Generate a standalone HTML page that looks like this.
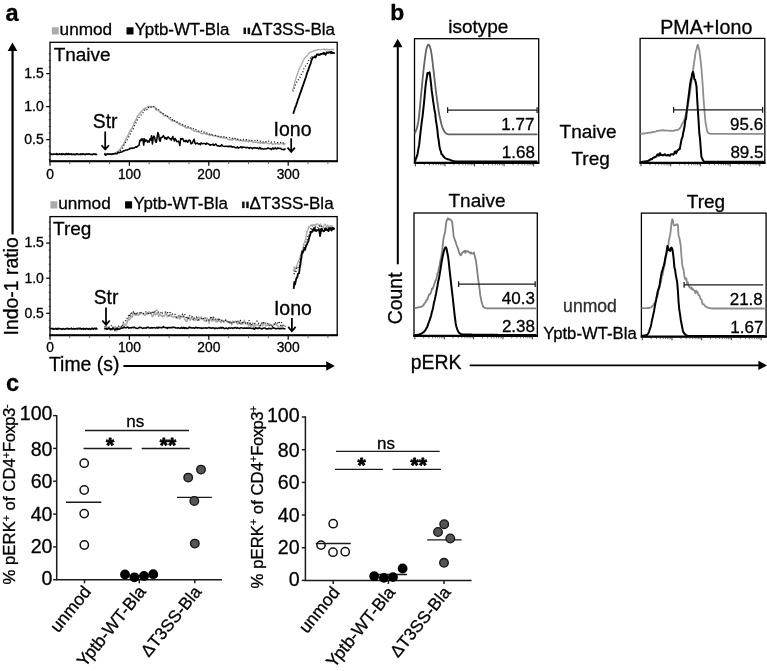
<!DOCTYPE html>
<html><head><meta charset="utf-8"><title>figure</title>
<style>
html,body{margin:0;padding:0;background:#fff;}
body{width:767px;height:671px;overflow:hidden;font-family:"Liberation Sans",sans-serif;}
svg{display:block;filter:blur(0.35px);}
svg text{font-family:"Liberation Sans",sans-serif;fill:#000;stroke:#000;stroke-width:0.3px;}
</style></head><body>
<svg width="767" height="671" viewBox="0 0 767 671">
<rect x="0" y="0" width="767" height="671" fill="#fff"/>
<rect x="51.8" y="27.3" width="6.9" height="7.2" fill="#ababab"/>
<text x="59.6" y="34.5" font-size="17.2">unmod</text>
<rect x="126.5" y="27.3" width="7.0" height="7.2" fill="#000"/>
<text x="134.8" y="34.5" font-size="16.9">Yptb-WT-Bla</text>
<rect x="243.5" y="27.6" width="2.5" height="6.5" fill="#111"/>
<rect x="247.6" y="27.6" width="2.5" height="6.5" fill="#111"/>
<text x="250.9" y="34.5" font-size="17">ΔT3SS-Bla</text>
<rect x="50" y="42.3" width="287.2" height="119.00000000000001" fill="#fff" stroke="#000" stroke-width="1.3"/>
<line x1="49.3" y1="161.3" x2="337.9" y2="161.3" stroke="#000" stroke-width="2.1"/>
<line x1="48.7" y1="159.4" x2="51" y2="159.4" stroke="#222" stroke-width="0.8"/>
<line x1="48.7" y1="152.8" x2="51" y2="152.8" stroke="#222" stroke-width="0.8"/>
<line x1="48.7" y1="146.2" x2="51" y2="146.2" stroke="#222" stroke-width="0.8"/>
<line x1="46.2" y1="139.6" x2="50" y2="139.6" stroke="#000" stroke-width="1.25"/>
<line x1="48.7" y1="133.0" x2="51" y2="133.0" stroke="#222" stroke-width="0.8"/>
<line x1="48.7" y1="126.4" x2="51" y2="126.4" stroke="#222" stroke-width="0.8"/>
<line x1="48.7" y1="119.8" x2="51" y2="119.8" stroke="#222" stroke-width="0.8"/>
<line x1="48.7" y1="113.2" x2="51" y2="113.2" stroke="#222" stroke-width="0.8"/>
<line x1="46.2" y1="106.6" x2="50" y2="106.6" stroke="#000" stroke-width="1.25"/>
<line x1="48.7" y1="100.0" x2="51" y2="100.0" stroke="#222" stroke-width="0.8"/>
<line x1="48.7" y1="93.4" x2="51" y2="93.4" stroke="#222" stroke-width="0.8"/>
<line x1="48.7" y1="86.8" x2="51" y2="86.8" stroke="#222" stroke-width="0.8"/>
<line x1="48.7" y1="80.2" x2="51" y2="80.2" stroke="#222" stroke-width="0.8"/>
<line x1="46.2" y1="73.6" x2="50" y2="73.6" stroke="#000" stroke-width="1.25"/>
<line x1="48.7" y1="67.0" x2="51" y2="67.0" stroke="#222" stroke-width="0.8"/>
<line x1="48.7" y1="60.4" x2="51" y2="60.4" stroke="#222" stroke-width="0.8"/>
<line x1="48.7" y1="53.8" x2="51" y2="53.8" stroke="#222" stroke-width="0.8"/>
<line x1="50.0" y1="161.3" x2="50.0" y2="165.70000000000002" stroke="#000" stroke-width="1.2"/>
<line x1="69.8" y1="161.3" x2="69.8" y2="164.10000000000002" stroke="#444" stroke-width="0.8"/>
<line x1="89.7" y1="161.3" x2="89.7" y2="164.10000000000002" stroke="#444" stroke-width="0.8"/>
<line x1="109.6" y1="161.3" x2="109.6" y2="164.10000000000002" stroke="#444" stroke-width="0.8"/>
<line x1="129.4" y1="161.3" x2="129.4" y2="165.70000000000002" stroke="#000" stroke-width="1.2"/>
<line x1="149.2" y1="161.3" x2="149.2" y2="164.10000000000002" stroke="#444" stroke-width="0.8"/>
<line x1="169.1" y1="161.3" x2="169.1" y2="164.10000000000002" stroke="#444" stroke-width="0.8"/>
<line x1="189.0" y1="161.3" x2="189.0" y2="164.10000000000002" stroke="#444" stroke-width="0.8"/>
<line x1="208.8" y1="161.3" x2="208.8" y2="165.70000000000002" stroke="#000" stroke-width="1.2"/>
<line x1="228.7" y1="161.3" x2="228.7" y2="164.10000000000002" stroke="#444" stroke-width="0.8"/>
<line x1="248.5" y1="161.3" x2="248.5" y2="164.10000000000002" stroke="#444" stroke-width="0.8"/>
<line x1="268.4" y1="161.3" x2="268.4" y2="164.10000000000002" stroke="#444" stroke-width="0.8"/>
<line x1="288.2" y1="161.3" x2="288.2" y2="165.70000000000002" stroke="#000" stroke-width="1.2"/>
<line x1="308.1" y1="161.3" x2="308.1" y2="164.10000000000002" stroke="#444" stroke-width="0.8"/>
<line x1="327.9" y1="161.3" x2="327.9" y2="164.10000000000002" stroke="#444" stroke-width="0.8"/>
<path d="M50.0,154.6 L50.8,154.1 L51.6,154.3 L52.4,154.3 L53.1,154.1 L53.9,154.3 L54.7,153.7 L55.5,153.9 L56.3,153.8 L57.1,154.3 L57.9,154.3 L58.7,153.8 L59.5,154.5 L60.2,153.8 L61.0,154.3 L61.8,154.2 L62.6,154.4 L63.4,154.1 L64.2,154.3 L65.0,154.3 L65.8,154.2 L66.5,154.3 L67.3,154.1 L68.1,154.0 L68.9,153.8 L69.7,154.4 L70.5,154.5 L71.3,154.5 L72.0,154.2 L72.8,153.9 L73.6,154.2 L74.4,154.2 L75.2,154.0 L76.0,154.2 L76.8,154.4 L77.6,154.4 L78.3,154.3 L79.1,154.3 L79.9,154.1 L80.7,154.2 L81.5,154.7 L82.3,153.7 L83.1,154.7 L83.9,154.6 L84.7,154.2 L85.4,154.2 L86.2,153.9 L87.0,154.4 L87.8,154.2 L88.6,154.5 L89.4,154.0 L90.2,154.0 L90.9,154.1 L91.7,154.4 L92.5,154.4 L93.3,154.6 L94.1,154.2 L94.9,154.2 L95.7,154.3 L96.5,154.2 L97.2,154.8" fill="none" stroke="#a9a9a9" stroke-width="1.5" stroke-linejoin="round"/>
<path d="M104.3,155.2 L105.1,155.1 L105.9,153.5 L106.7,154.5 L107.5,153.5 L108.3,154.4 L109.1,153.7 L109.8,153.9 L110.6,154.3 L111.4,154.3 L112.2,154.7 L113.0,153.8 L113.8,154.0 L114.6,153.2 L115.4,152.8 L116.1,153.3 L116.9,152.2 L117.7,151.5 L118.5,150.8 L119.3,150.1 L120.1,149.0 L120.9,148.3 L121.7,147.1 L122.5,145.4 L123.2,145.0 L124.0,143.6 L124.8,141.7 L125.6,140.5 L126.4,137.9 L127.2,136.9 L128.0,135.3 L128.8,133.8 L129.5,132.0 L130.3,130.1 L131.1,129.3 L131.9,128.6 L132.7,126.4 L133.5,125.3 L134.3,122.6 L135.1,121.5 L135.8,120.1 L136.6,118.6 L137.4,116.3 L138.2,115.3 L139.0,114.2 L139.8,113.7 L140.6,112.3 L141.3,111.6 L142.1,110.6 L142.9,110.0 L143.7,108.8 L144.5,108.3 L145.3,108.5 L146.1,107.7 L146.9,107.5 L147.6,107.6 L148.4,106.4 L149.2,106.9 L150.0,106.5 L150.8,106.3 L151.6,106.6 L152.4,106.7 L153.2,106.4 L153.9,106.9 L154.7,107.3 L155.5,108.3 L156.3,109.9 L157.1,109.8 L157.9,109.4 L158.7,110.6 L159.5,111.6 L160.2,112.3 L161.0,112.6 L161.8,113.5 L162.6,114.0 L163.4,114.4 L164.2,115.8 L165.0,115.8 L165.8,115.7 L166.6,116.0 L167.3,116.3 L168.1,116.9 L168.9,118.6 L169.7,118.8 L170.5,119.3 L171.3,120.0 L172.1,121.1 L172.8,121.0 L173.6,120.8 L174.4,120.8 L175.2,121.4 L176.0,122.0 L176.8,121.8 L177.6,122.9 L178.4,123.4 L179.2,124.3 L179.9,124.7 L180.7,125.0 L181.5,125.3 L182.3,125.5 L183.1,126.0 L183.9,126.0 L184.7,126.6 L185.4,127.7 L186.2,127.6 L187.0,128.1 L187.8,127.5 L188.6,128.0 L189.4,127.9 L190.2,128.0 L191.0,128.8 L191.8,129.6 L192.5,129.9 L193.3,130.2 L194.1,131.2 L194.9,130.5 L195.7,130.8 L196.5,131.3 L197.3,131.5 L198.0,132.0 L198.8,132.0 L199.6,132.0 L200.4,132.5 L201.2,133.5 L202.0,133.8 L202.8,133.4 L203.6,133.4 L204.3,133.4 L205.1,133.2 L205.9,134.2 L206.7,134.4 L207.5,134.0 L208.3,134.6 L209.1,135.2 L209.9,134.8 L210.7,135.3 L211.4,134.4 L212.2,135.3 L213.0,135.8 L213.8,135.7 L214.6,135.9 L215.4,136.1 L216.2,135.8 L216.9,136.5 L217.7,136.4 L218.5,136.7 L219.3,136.8 L220.1,137.4 L220.9,137.4 L221.7,137.3 L222.5,137.8 L223.2,138.2 L224.0,137.5 L224.8,138.1 L225.6,138.1 L226.4,138.3 L227.2,138.6 L228.0,139.4 L228.8,139.5 L229.5,140.0 L230.3,139.3 L231.1,139.9 L231.9,139.7 L232.7,140.0 L233.5,139.2 L234.3,138.5 L235.1,139.3 L235.8,139.5 L236.6,140.5 L237.4,139.5 L238.2,139.8 L239.0,140.3 L239.8,140.4 L240.6,140.6 L241.4,140.7 L242.2,140.5 L242.9,141.2 L243.7,140.6 L244.5,140.7 L245.3,141.3 L246.1,140.1 L246.9,141.1 L247.7,141.4 L248.4,142.0 L249.2,141.5 L250.0,141.1 L250.8,141.1 L251.6,141.3 L252.4,142.4 L253.2,142.2 L254.0,142.1 L254.8,142.1 L255.5,142.3 L256.3,142.1 L257.1,142.3 L257.9,143.0 L258.7,142.5 L259.5,142.4 L260.3,143.2 L261.0,142.7 L261.8,142.9 L262.6,142.9 L263.4,143.4 L264.2,142.7 L265.0,143.2 L265.8,142.7 L266.6,142.8 L267.4,143.2 L268.1,143.5 L268.9,143.7 L269.7,143.7 L270.5,143.1 L271.3,143.1 L272.1,144.0 L272.9,144.5 L273.6,144.3 L274.4,143.6 L275.2,143.6 L276.0,144.0 L276.8,143.4 L277.6,143.8 L278.4,143.9 L279.2,144.2 L279.9,143.8 L280.7,143.4 L281.5,143.4 L282.3,143.2 L283.1,144.2 L283.9,144.6 L284.7,143.8 L285.5,144.2" fill="none" stroke="#a9a9a9" stroke-width="1.5" stroke-linejoin="round"/>
<path d="M50.0,153.8 L50.8,153.9 L51.6,153.7 L52.4,153.6 L53.1,153.8 L53.9,154.0 L54.7,153.7 L55.5,154.0 L56.3,153.4 L57.1,153.9 L57.9,153.7 L58.7,153.6 L59.5,153.7 L60.2,153.7 L61.0,153.5 L61.8,154.0 L62.6,154.3 L63.4,153.7 L64.2,153.4 L65.0,153.9 L65.8,153.9 L66.5,153.9 L67.3,153.6 L68.1,153.3 L68.9,153.6 L69.7,153.7 L70.5,153.5 L71.3,153.8 L72.0,154.1 L72.8,153.4 L73.6,154.1 L74.4,154.1 L75.2,153.9 L76.0,153.5 L76.8,153.6 L77.6,153.7 L78.3,153.7 L79.1,153.5 L79.9,153.5 L80.7,154.0 L81.5,153.5 L82.3,153.9 L83.1,153.7 L83.9,153.8 L84.7,153.7 L85.4,153.5 L86.2,154.1 L87.0,154.0 L87.8,153.8 L88.6,153.5 L89.4,154.0 L90.2,153.7 L90.9,153.6 L91.7,153.9 L92.5,154.0 L93.3,153.6 L94.1,154.0 L94.9,154.1 L95.7,153.6 L96.5,154.3 L97.2,154.2" fill="none" stroke="#1a1a1a" stroke-width="1.25" stroke-dasharray="1.1 2.1" stroke-linejoin="round"/>
<path d="M104.3,153.7 L105.1,153.4 L105.9,153.3 L106.7,154.1 L107.5,153.7 L108.3,154.1 L109.1,153.1 L109.8,153.7 L110.6,154.1 L111.4,153.9 L112.2,153.3 L113.0,154.2 L113.8,154.4 L114.6,153.8 L115.4,153.4 L116.1,153.2 L116.9,152.9 L117.7,152.0 L118.5,152.1 L119.3,151.7 L120.1,150.9 L120.9,149.9 L121.7,149.5 L122.5,148.5 L123.2,147.1 L124.0,145.1 L124.8,144.1 L125.6,142.5 L126.4,140.9 L127.2,139.8 L128.0,138.5 L128.8,136.9 L129.5,135.6 L130.3,134.1 L131.1,132.0 L131.9,130.7 L132.7,130.2 L133.5,128.4 L134.3,126.1 L135.1,124.8 L135.8,123.0 L136.6,122.0 L137.4,119.8 L138.2,118.5 L139.0,117.5 L139.8,116.2 L140.6,115.6 L141.3,114.6 L142.1,113.0 L142.9,112.7 L143.7,110.7 L144.5,110.4 L145.3,108.9 L146.1,109.4 L146.9,109.6 L147.6,107.4 L148.4,107.6 L149.2,106.6 L150.0,107.3 L150.8,107.4 L151.6,107.2 L152.4,107.1 L153.2,106.3 L153.9,106.7 L154.7,107.1 L155.5,107.5 L156.3,109.1 L157.1,109.4 L157.9,109.3 L158.7,110.0 L159.5,110.2 L160.2,111.4 L161.0,112.2 L161.8,112.0 L162.6,112.4 L163.4,113.9 L164.2,113.8 L165.0,114.6 L165.8,115.7 L166.6,117.1 L167.3,116.4 L168.1,116.7 L168.9,117.1 L169.7,117.7 L170.5,117.6 L171.3,118.5 L172.1,119.6 L172.8,119.8 L173.6,119.2 L174.4,120.8 L175.2,120.6 L176.0,121.3 L176.8,122.1 L177.6,122.6 L178.4,122.5 L179.2,123.0 L179.9,123.4 L180.7,123.7 L181.5,124.6 L182.3,124.4 L183.1,124.9 L183.9,125.1 L184.7,125.2 L185.4,126.0 L186.2,126.6 L187.0,126.6 L187.8,126.6 L188.6,127.4 L189.4,128.0 L190.2,127.8 L191.0,127.9 L191.8,127.3 L192.5,128.1 L193.3,128.5 L194.1,128.9 L194.9,129.9 L195.7,129.5 L196.5,129.7 L197.3,130.4 L198.0,130.6 L198.8,131.2 L199.6,131.6 L200.4,131.0 L201.2,131.1 L202.0,131.1 L202.8,132.0 L203.6,131.6 L204.3,132.5 L205.1,132.9 L205.9,133.1 L206.7,133.0 L207.5,133.8 L208.3,133.9 L209.1,133.9 L209.9,134.2 L210.7,134.4 L211.4,135.3 L212.2,134.8 L213.0,134.8 L213.8,134.9 L214.6,134.9 L215.4,135.4 L216.2,135.8 L216.9,136.3 L217.7,136.1 L218.5,136.4 L219.3,136.7 L220.1,137.2 L220.9,136.8 L221.7,136.1 L222.5,136.3 L223.2,136.7 L224.0,136.7 L224.8,137.2 L225.6,136.6 L226.4,137.4 L227.2,137.2 L228.0,137.4 L228.8,137.4 L229.5,137.7 L230.3,137.3 L231.1,137.3 L231.9,138.0 L232.7,138.7 L233.5,138.8 L234.3,138.3 L235.1,138.5 L235.8,138.1 L236.6,139.0 L237.4,139.1 L238.2,139.4 L239.0,139.1 L239.8,139.7 L240.6,139.9 L241.4,139.5 L242.2,138.8 L242.9,139.2 L243.7,139.6 L244.5,139.6 L245.3,139.9 L246.1,139.6 L246.9,139.9 L247.7,140.7 L248.4,140.3 L249.2,140.2 L250.0,139.7 L250.8,140.5 L251.6,140.5 L252.4,140.3 L253.2,140.2 L254.0,140.3 L254.8,140.4 L255.5,141.1 L256.3,140.8 L257.1,140.1 L257.9,141.1 L258.7,141.0 L259.5,141.3 L260.3,141.2 L261.0,141.7 L261.8,142.0 L262.6,142.2 L263.4,141.8 L264.2,142.2 L265.0,142.3 L265.8,141.7 L266.6,141.7 L267.4,141.5 L268.1,141.9 L268.9,141.0 L269.7,141.2 L270.5,141.7 L271.3,142.2 L272.1,142.1 L272.9,142.1 L273.6,142.4 L274.4,142.0 L275.2,142.4 L276.0,142.3 L276.8,142.7 L277.6,142.5 L278.4,142.7 L279.2,142.3 L279.9,142.1 L280.7,142.5 L281.5,143.2 L282.3,143.4 L283.1,143.0 L283.9,142.9 L284.7,142.9 L285.5,143.0" fill="none" stroke="#1a1a1a" stroke-width="1.25" stroke-dasharray="1.1 2.1" stroke-linejoin="round"/>
<path d="M50.0,154.3 L50.8,153.8 L51.6,154.5 L52.4,154.2 L53.1,154.4 L53.9,154.3 L54.7,154.3 L55.5,154.3 L56.3,154.5 L57.1,153.8 L57.9,154.6 L58.7,154.2 L59.5,154.2 L60.2,154.2 L61.0,154.7 L61.8,153.6 L62.6,154.4 L63.4,154.0 L64.2,154.4 L65.0,154.2 L65.8,154.4 L66.5,153.6 L67.3,154.5 L68.1,153.7 L68.9,154.5 L69.7,153.9 L70.5,154.2 L71.3,154.0 L72.0,154.6 L72.8,154.5 L73.6,154.2 L74.4,154.6 L75.2,154.8 L76.0,154.1 L76.8,154.0 L77.6,153.9 L78.3,154.4 L79.1,154.5 L79.9,154.5 L80.7,154.6 L81.5,154.0 L82.3,153.8 L83.1,154.3 L83.9,154.3 L84.7,154.2 L85.4,154.8 L86.2,153.9 L87.0,153.9 L87.8,154.3 L88.6,154.1 L89.4,154.0 L90.2,154.4 L90.9,154.4 L91.7,154.6 L92.5,154.7 L93.3,154.1 L94.1,153.9 L94.9,154.4 L95.7,154.2 L96.5,154.4 L97.2,154.2" fill="none" stroke="#000" stroke-width="1.55" stroke-linejoin="round"/>
<path d="M104.3,153.8 L105.1,154.4 L105.9,155.1 L106.7,154.6 L107.5,153.9 L108.3,153.9 L109.1,154.2 L109.8,154.3 L110.6,154.0 L111.4,154.4 L112.2,154.0 L113.0,154.1 L113.8,153.7 L114.6,153.7 L115.4,153.6 L116.1,153.7 L116.9,153.7 L117.7,152.6 L118.5,152.6 L119.3,152.6 L120.1,152.3 L120.9,152.0 L121.7,152.1 L122.5,151.5 L123.2,151.1 L124.0,150.8 L124.8,150.8 L125.6,150.0 L126.4,150.1 L127.2,150.0 L128.0,149.6 L128.8,149.5 L129.5,148.9 L130.3,148.2 L131.1,148.4 L131.9,148.1 L132.7,148.4 L133.5,148.0 L134.3,147.9 L135.1,147.4 L135.8,146.8 L136.6,147.3 L137.4,146.3 L138.2,145.9 L139.0,145.4 L139.8,140.6 L140.6,140.8 L141.3,138.9 L142.1,140.4 L142.9,138.8 L143.7,145.1 L144.5,138.9 L145.3,141.4 L146.1,140.0 L146.9,140.4 L147.6,142.1 L148.4,141.1 L149.2,141.9 L150.0,138.9 L150.8,140.0 L151.6,135.7 L152.4,144.0 L153.2,137.4 L153.9,136.1 L154.7,137.8 L155.5,141.9 L156.3,142.3 L157.1,137.5 L157.9,132.6 L158.7,134.8 L159.5,140.7 L160.2,141.2 L161.0,137.5 L161.8,137.4 L162.6,136.8 L163.4,135.6 L164.2,137.2 L165.0,138.8 L165.8,137.6 L166.6,139.3 L167.3,137.8 L168.1,136.9 L168.9,137.7 L169.7,138.8 L170.5,138.7 L171.3,140.1 L172.1,138.2 L172.8,136.5 L173.6,138.9 L174.4,140.9 L175.2,138.5 L176.0,140.0 L176.8,141.7 L177.6,141.4 L178.4,141.2 L179.2,142.9 L179.9,145.5 L180.7,138.5 L181.5,139.2 L182.3,138.5 L183.1,139.2 L183.9,141.5 L184.7,140.7 L185.4,141.6 L186.2,140.2 L187.0,141.6 L187.8,142.2 L188.6,140.4 L189.4,140.1 L190.2,140.7 L191.0,143.7 L191.8,143.4 L192.5,142.7 L193.3,140.8 L194.1,139.3 L194.9,143.2 L195.7,143.9 L196.5,143.3 L197.3,143.1 L198.0,143.7 L198.8,144.0 L199.6,143.8 L200.4,144.8 L201.2,142.8 L202.0,143.5 L202.8,143.7 L203.6,143.6 L204.3,143.4 L205.1,143.6 L205.9,144.4 L206.7,143.1 L207.5,143.6 L208.3,143.9 L209.1,144.3 L209.9,145.2 L210.7,144.8 L211.4,144.8 L212.2,144.8 L213.0,144.0 L213.8,145.3 L214.6,145.3 L215.4,144.1 L216.2,144.2 L216.9,145.5 L217.7,145.9 L218.5,145.8 L219.3,146.3 L220.1,145.8 L220.9,146.1 L221.7,144.6 L222.5,145.8 L223.2,146.2 L224.0,146.3 L224.8,146.5 L225.6,146.3 L226.4,146.2 L227.2,146.5 L228.0,146.3 L228.8,146.7 L229.5,146.1 L230.3,146.6 L231.1,146.1 L231.9,146.9 L232.7,146.7 L233.5,146.9 L234.3,147.0 L235.1,147.5 L235.8,147.7 L236.6,147.8 L237.4,146.9 L238.2,148.2 L239.0,147.7 L239.8,147.6 L240.6,146.8 L241.4,147.0 L242.2,147.9 L242.9,146.9 L243.7,147.2 L244.5,147.2 L245.3,147.4 L246.1,147.8 L246.9,147.3 L247.7,147.4 L248.4,147.8 L249.2,148.4 L250.0,147.6 L250.8,147.7 L251.6,148.0 L252.4,148.6 L253.2,147.8 L254.0,148.0 L254.8,147.8 L255.5,148.1 L256.3,148.3 L257.1,147.9 L257.9,148.4 L258.7,149.0 L259.5,147.5 L260.3,147.9 L261.0,149.0 L261.8,148.5 L262.6,148.7 L263.4,149.0 L264.2,148.9 L265.0,148.8 L265.8,148.7 L266.6,148.7 L267.4,148.6 L268.1,147.9 L268.9,148.4 L269.7,148.4 L270.5,148.7 L271.3,149.6 L272.1,148.5 L272.9,147.9 L273.6,149.1 L274.4,148.6 L275.2,147.9 L276.0,148.6 L276.8,149.0 L277.6,148.1 L278.4,148.1 L279.2,148.3 L279.9,148.4 L280.7,148.2 L281.5,149.3 L282.3,149.5 L283.1,149.4 L283.9,149.7 L284.7,149.3 L285.5,148.5" fill="none" stroke="#000" stroke-width="1.55" stroke-linejoin="round"/>
<path d="M292.7,90.5 L293.3,88.2 L293.9,86.6 L294.5,83.6 L295.1,81.1 L295.7,79.2 L296.3,77.1 L296.9,75.5 L297.5,73.4 L298.1,72.1 L298.7,70.1 L299.3,69.1 L299.9,67.5 L300.5,66.4 L301.1,65.6 L301.7,64.3 L302.3,62.6 L302.9,61.6 L303.5,59.9 L304.1,59.2 L304.7,58.0 L305.3,57.5 L305.9,56.5 L306.5,56.1 L307.1,55.7 L307.7,55.1 L308.3,54.0 L308.9,53.2 L309.5,53.1 L310.1,52.3 L310.7,52.0 L311.3,52.1 L311.9,51.3 L312.5,51.5 L313.1,51.3 L313.7,50.8 L314.3,50.4 L314.9,50.4 L315.5,50.7 L316.1,50.2 L316.7,50.3 L317.3,49.8 L317.9,49.7 L318.5,49.7 L319.1,49.6 L319.7,49.7 L320.3,49.8 L320.9,49.9 L321.5,49.5 L322.1,49.3 L322.7,49.4 L323.3,49.3 L323.9,49.1 L324.5,49.6 L325.1,49.4 L325.7,50.0 L326.3,49.4 L326.9,49.2 L327.5,49.6 L328.1,49.5 L328.7,49.8 L329.3,49.6 L329.9,50.0 L330.5,49.4 L331.1,49.6 L331.7,49.4 L332.3,49.4 L332.9,49.1 L333.5,49.7 L334.1,49.1" fill="none" stroke="#a9a9a9" stroke-width="1.3" stroke-linejoin="round"/>
<path d="M292.7,91.4 L293.3,90.3 L293.9,88.8 L294.5,87.9 L295.1,85.5 L295.7,84.3 L296.3,83.0 L296.9,81.9 L297.5,81.9 L298.1,80.3 L298.7,78.6 L299.3,77.6 L299.9,77.5 L300.5,75.3 L301.1,74.5 L301.7,73.9 L302.3,73.0 L302.9,71.9 L303.5,69.7 L304.1,68.2 L304.7,67.0 L305.3,66.6 L305.9,65.4 L306.5,64.9 L307.1,63.8 L307.7,62.9 L308.3,60.8 L308.9,59.8 L309.5,59.3 L310.1,58.9 L310.7,57.9 L311.3,58.4 L311.9,56.5 L312.5,56.8 L313.1,56.0 L313.7,56.4 L314.3,56.3 L314.9,55.6 L315.5,55.7 L316.1,56.0 L316.7,54.8" fill="none" stroke="#1a1a1a" stroke-width="1.25" stroke-dasharray="1.1 2.1" stroke-linejoin="round"/>
<path d="M293.3,113.7 L293.9,111.6 L294.5,109.8 L295.1,107.8 L295.7,106.5 L296.3,104.8 L296.9,102.9 L297.5,101.2 L298.1,99.1 L298.7,98.1 L299.3,96.1 L299.9,94.2 L300.5,92.7 L301.1,90.9 L301.7,89.1 L302.3,87.3 L302.9,85.6 L303.5,84.0 L304.1,82.3 L304.7,80.6 L305.3,78.8 L305.9,77.2 L306.5,75.1 L307.1,73.1 L307.7,71.3 L308.3,70.2 L308.9,67.8 L309.5,66.3 L310.1,64.8 L310.7,63.3 L311.3,60.8 L311.9,59.3 L312.5,58.0 L313.1,57.6 L313.7,57.3 L314.3,57.2 L314.9,56.6 L315.5,57.4 L316.1,56.5 L316.7,54.7 L317.3,54.4 L317.9,54.7 L318.5,54.5 L319.1,55.0 L319.7,54.6 L320.3,54.5 L320.9,54.0 L321.5,54.0 L322.1,53.9 L322.7,53.5 L323.3,53.8 L323.9,52.7 L324.5,53.9 L325.1,53.6 L325.7,54.7 L326.3,53.2 L326.9,52.3 L327.5,52.7 L328.1,52.9 L328.7,52.5 L329.3,52.2 L329.9,52.6 L330.5,52.0 L331.1,53.3 L331.7,51.9 L332.3,52.9 L332.9,53.1 L333.5,52.7 L334.1,53.1 L334.7,52.6" fill="none" stroke="#000" stroke-width="1.85" stroke-linejoin="round"/>
<rect x="50.4" y="201.3" width="6.9" height="7.2" fill="#ababab"/>
<text x="58.2" y="208.5" font-size="17.2">unmod</text>
<rect x="125.1" y="201.3" width="7.0" height="7.2" fill="#000"/>
<text x="133.4" y="208.5" font-size="16.9">Yptb-WT-Bla</text>
<rect x="242.1" y="201.6" width="2.5" height="6.5" fill="#111"/>
<rect x="246.2" y="201.6" width="2.5" height="6.5" fill="#111"/>
<text x="249.5" y="208.5" font-size="17">ΔT3SS-Bla</text>
<rect x="50" y="216.6" width="287.2" height="118.70000000000002" fill="#fff" stroke="#000" stroke-width="1.3"/>
<line x1="49.3" y1="335.3" x2="337.9" y2="335.3" stroke="#000" stroke-width="2.1"/>
<line x1="48.7" y1="327.3" x2="51" y2="327.3" stroke="#222" stroke-width="0.8"/>
<line x1="48.7" y1="320.3" x2="51" y2="320.3" stroke="#222" stroke-width="0.8"/>
<line x1="46.2" y1="313.3" x2="50" y2="313.3" stroke="#000" stroke-width="1.25"/>
<line x1="48.7" y1="306.3" x2="51" y2="306.3" stroke="#222" stroke-width="0.8"/>
<line x1="48.7" y1="299.3" x2="51" y2="299.3" stroke="#222" stroke-width="0.8"/>
<line x1="48.7" y1="292.2" x2="51" y2="292.2" stroke="#222" stroke-width="0.8"/>
<line x1="48.7" y1="285.2" x2="51" y2="285.2" stroke="#222" stroke-width="0.8"/>
<line x1="46.2" y1="278.2" x2="50" y2="278.2" stroke="#000" stroke-width="1.25"/>
<line x1="48.7" y1="271.2" x2="51" y2="271.2" stroke="#222" stroke-width="0.8"/>
<line x1="48.7" y1="264.2" x2="51" y2="264.2" stroke="#222" stroke-width="0.8"/>
<line x1="48.7" y1="257.1" x2="51" y2="257.1" stroke="#222" stroke-width="0.8"/>
<line x1="48.7" y1="250.1" x2="51" y2="250.1" stroke="#222" stroke-width="0.8"/>
<line x1="46.2" y1="243.1" x2="50" y2="243.1" stroke="#000" stroke-width="1.25"/>
<line x1="48.7" y1="236.1" x2="51" y2="236.1" stroke="#222" stroke-width="0.8"/>
<line x1="48.7" y1="229.1" x2="51" y2="229.1" stroke="#222" stroke-width="0.8"/>
<line x1="48.7" y1="222.0" x2="51" y2="222.0" stroke="#222" stroke-width="0.8"/>
<line x1="50.0" y1="335.3" x2="50.0" y2="339.7" stroke="#000" stroke-width="1.2"/>
<line x1="69.8" y1="335.3" x2="69.8" y2="338.1" stroke="#444" stroke-width="0.8"/>
<line x1="89.7" y1="335.3" x2="89.7" y2="338.1" stroke="#444" stroke-width="0.8"/>
<line x1="109.6" y1="335.3" x2="109.6" y2="338.1" stroke="#444" stroke-width="0.8"/>
<line x1="129.4" y1="335.3" x2="129.4" y2="339.7" stroke="#000" stroke-width="1.2"/>
<line x1="149.2" y1="335.3" x2="149.2" y2="338.1" stroke="#444" stroke-width="0.8"/>
<line x1="169.1" y1="335.3" x2="169.1" y2="338.1" stroke="#444" stroke-width="0.8"/>
<line x1="189.0" y1="335.3" x2="189.0" y2="338.1" stroke="#444" stroke-width="0.8"/>
<line x1="208.8" y1="335.3" x2="208.8" y2="339.7" stroke="#000" stroke-width="1.2"/>
<line x1="228.7" y1="335.3" x2="228.7" y2="338.1" stroke="#444" stroke-width="0.8"/>
<line x1="248.5" y1="335.3" x2="248.5" y2="338.1" stroke="#444" stroke-width="0.8"/>
<line x1="268.4" y1="335.3" x2="268.4" y2="338.1" stroke="#444" stroke-width="0.8"/>
<line x1="288.2" y1="335.3" x2="288.2" y2="339.7" stroke="#000" stroke-width="1.2"/>
<line x1="308.1" y1="335.3" x2="308.1" y2="338.1" stroke="#444" stroke-width="0.8"/>
<line x1="327.9" y1="335.3" x2="327.9" y2="338.1" stroke="#444" stroke-width="0.8"/>
<path d="M50.0,328.5 L50.8,328.6 L51.6,328.8 L52.4,328.6 L53.1,329.3 L53.9,329.0 L54.7,329.0 L55.5,329.0 L56.3,329.1 L57.1,329.4 L57.9,328.6 L58.7,329.3 L59.5,328.5 L60.2,329.0 L61.0,328.9 L61.8,328.4 L62.6,329.3 L63.4,329.0 L64.2,329.1 L65.0,329.3 L65.8,328.6 L66.5,329.0 L67.3,329.0 L68.1,328.8 L68.9,328.9 L69.7,329.0 L70.5,329.0 L71.3,328.9 L72.0,328.9 L72.8,328.7 L73.6,329.1 L74.4,329.1 L75.2,328.7 L76.0,328.7 L76.8,327.9 L77.6,328.6 L78.3,329.2 L79.1,329.2 L79.9,329.3 L80.7,329.2 L81.5,329.2 L82.3,329.3 L83.1,329.4 L83.9,328.9 L84.7,329.2 L85.4,329.5 L86.2,328.6 L87.0,328.8 L87.8,328.9 L88.6,328.8 L89.4,328.7 L90.2,329.3 L90.9,329.0 L91.7,329.2 L92.5,329.0 L93.3,329.3 L94.1,328.7 L94.9,328.4 L95.7,328.9 L96.5,328.3 L97.2,328.8" fill="none" stroke="#a9a9a9" stroke-width="1.5" stroke-linejoin="round"/>
<path d="M104.3,329.1 L105.1,327.9 L105.9,328.2 L106.7,326.4 L107.5,328.6 L108.3,327.6 L109.1,327.1 L109.8,329.3 L110.6,330.4 L111.4,329.6 L112.2,329.8 L113.0,326.6 L113.8,328.2 L114.6,327.4 L115.4,326.6 L116.1,330.9 L116.9,330.8 L117.7,329.5 L118.5,328.7 L119.3,326.8 L120.1,329.2 L120.9,327.6 L121.7,328.3 L122.5,325.3 L123.2,323.7 L124.0,323.9 L124.8,324.4 L125.6,325.5 L126.4,324.5 L127.2,322.0 L128.0,319.8 L128.8,316.9 L129.5,320.0 L130.3,317.4 L131.1,315.7 L131.9,317.3 L132.7,316.1 L133.5,312.6 L134.3,312.7 L135.1,315.4 L135.8,314.9 L136.6,314.7 L137.4,314.5 L138.2,315.2 L139.0,314.3 L139.8,314.6 L140.6,313.3 L141.3,312.7 L142.1,313.7 L142.9,313.7 L143.7,313.2 L144.5,315.1 L145.3,315.1 L146.1,313.5 L146.9,314.2 L147.6,313.4 L148.4,313.2 L149.2,311.7 L150.0,313.0 L150.8,313.2 L151.6,314.8 L152.4,316.6 L153.2,315.7 L153.9,313.6 L154.7,312.4 L155.5,314.9 L156.3,314.2 L157.1,312.5 L157.9,313.1 L158.7,316.5 L159.5,313.9 L160.2,314.8 L161.0,315.7 L161.8,315.1 L162.6,316.9 L163.4,315.9 L164.2,316.4 L165.0,314.9 L165.8,312.0 L166.6,314.0 L167.3,316.7 L168.1,316.1 L168.9,316.0 L169.7,315.8 L170.5,314.2 L171.3,316.1 L172.1,316.8 L172.8,316.9 L173.6,316.2 L174.4,316.7 L175.2,316.4 L176.0,317.8 L176.8,318.0 L177.6,318.4 L178.4,316.6 L179.2,316.9 L179.9,319.0 L180.7,316.4 L181.5,316.9 L182.3,316.8 L183.1,315.5 L183.9,317.5 L184.7,319.1 L185.4,320.3 L186.2,321.2 L187.0,321.4 L187.8,317.2 L188.6,318.6 L189.4,317.4 L190.2,320.5 L191.0,318.8 L191.8,317.4 L192.5,317.3 L193.3,318.8 L194.1,320.6 L194.9,318.5 L195.7,320.2 L196.5,318.1 L197.3,318.9 L198.0,317.7 L198.8,317.1 L199.6,319.7 L200.4,317.4 L201.2,317.1 L202.0,318.7 L202.8,319.6 L203.6,318.4 L204.3,320.9 L205.1,320.7 L205.9,320.9 L206.7,317.9 L207.5,318.7 L208.3,320.4 L209.1,323.0 L209.9,318.8 L210.7,318.9 L211.4,320.2 L212.2,321.4 L213.0,318.8 L213.8,320.6 L214.6,319.7 L215.4,320.8 L216.2,322.0 L216.9,319.0 L217.7,321.5 L218.5,318.8 L219.3,321.3 L220.1,321.5 L220.9,322.7 L221.7,321.1 L222.5,320.3 L223.2,321.6 L224.0,322.4 L224.8,320.9 L225.6,319.6 L226.4,320.9 L227.2,321.0 L228.0,321.9 L228.8,321.6 L229.5,322.9 L230.3,321.4 L231.1,323.3 L231.9,324.6 L232.7,321.1 L233.5,322.6 L234.3,322.6 L235.1,321.3 L235.8,321.1 L236.6,322.4 L237.4,324.3 L238.2,323.0 L239.0,322.1 L239.8,321.2 L240.6,324.2 L241.4,323.9 L242.2,324.1 L242.9,324.0 L243.7,321.6 L244.5,320.4 L245.3,323.7 L246.1,324.1 L246.9,322.6 L247.7,323.5 L248.4,326.0 L249.2,324.6 L250.0,322.7 L250.8,326.9 L251.6,326.0 L252.4,324.2 L253.2,325.4 L254.0,326.9 L254.8,324.3 L255.5,325.7 L256.3,325.3 L257.1,325.1 L257.9,324.5 L258.7,325.1 L259.5,327.2 L260.3,325.6 L261.0,324.0 L261.8,323.8 L262.6,326.1 L263.4,323.0 L264.2,322.5 L265.0,324.2 L265.8,326.2 L266.6,325.0 L267.4,325.4 L268.1,325.1 L268.9,324.5 L269.7,324.1 L270.5,324.8 L271.3,324.8 L272.1,326.6 L272.9,325.8 L273.6,324.1 L274.4,324.5 L275.2,324.5 L276.0,323.8 L276.8,325.3 L277.6,325.2 L278.4,327.1 L279.2,326.9 L279.9,327.1 L280.7,327.2 L281.5,325.7 L282.3,326.7 L283.1,325.4 L283.9,325.6 L284.7,325.5 L285.5,326.4" fill="none" stroke="#a9a9a9" stroke-width="1.5" stroke-linejoin="round"/>
<path d="M50.0,328.4 L50.8,328.6 L51.6,328.9 L52.4,329.0 L53.1,328.6 L53.9,329.0 L54.7,328.4 L55.5,328.7 L56.3,328.5 L57.1,328.5 L57.9,328.4 L58.7,328.5 L59.5,328.5 L60.2,328.6 L61.0,328.7 L61.8,328.7 L62.6,329.0 L63.4,328.7 L64.2,329.2 L65.0,329.3 L65.8,328.7 L66.5,328.9 L67.3,328.6 L68.1,329.1 L68.9,329.1 L69.7,328.9 L70.5,328.8 L71.3,328.1 L72.0,328.6 L72.8,328.4 L73.6,328.6 L74.4,328.8 L75.2,328.7 L76.0,328.5 L76.8,328.9 L77.6,328.8 L78.3,328.9 L79.1,328.5 L79.9,328.4 L80.7,328.8 L81.5,328.7 L82.3,328.5 L83.1,328.6 L83.9,328.1 L84.7,328.6 L85.4,328.2 L86.2,328.5 L87.0,328.9 L87.8,329.2 L88.6,328.5 L89.4,328.9 L90.2,328.7 L90.9,328.5 L91.7,329.0 L92.5,328.9 L93.3,328.5 L94.1,328.8 L94.9,328.3 L95.7,328.2 L96.5,328.8 L97.2,328.6" fill="none" stroke="#1a1a1a" stroke-width="1.25" stroke-dasharray="1.1 2.1" stroke-linejoin="round"/>
<path d="M104.3,326.7 L105.1,326.8 L105.9,328.3 L106.7,329.3 L107.5,329.1 L108.3,328.4 L109.1,327.3 L109.8,327.1 L110.6,329.0 L111.4,325.5 L112.2,329.8 L113.0,328.0 L113.8,329.2 L114.6,330.3 L115.4,331.0 L116.1,329.6 L116.9,326.5 L117.7,329.8 L118.5,326.1 L119.3,326.9 L120.1,327.2 L120.9,326.8 L121.7,325.8 L122.5,326.6 L123.2,322.4 L124.0,321.5 L124.8,321.6 L125.6,320.7 L126.4,320.9 L127.2,317.2 L128.0,316.7 L128.8,315.4 L129.5,316.7 L130.3,313.2 L131.1,315.1 L131.9,312.8 L132.7,313.5 L133.5,311.3 L134.3,312.7 L135.1,315.0 L135.8,314.5 L136.6,311.9 L137.4,313.4 L138.2,314.1 L139.0,313.7 L139.8,312.2 L140.6,311.4 L141.3,313.3 L142.1,313.3 L142.9,314.0 L143.7,313.6 L144.5,313.3 L145.3,312.9 L146.1,311.5 L146.9,311.3 L147.6,314.6 L148.4,314.1 L149.2,312.4 L150.0,312.5 L150.8,313.2 L151.6,311.2 L152.4,312.7 L153.2,313.7 L153.9,311.6 L154.7,310.3 L155.5,312.0 L156.3,311.2 L157.1,310.0 L157.9,310.0 L158.7,312.9 L159.5,313.1 L160.2,312.9 L161.0,312.7 L161.8,314.3 L162.6,313.0 L163.4,313.1 L164.2,313.0 L165.0,312.2 L165.8,311.8 L166.6,311.8 L167.3,311.7 L168.1,314.0 L168.9,315.5 L169.7,312.7 L170.5,312.5 L171.3,312.9 L172.1,314.1 L172.8,313.7 L173.6,313.2 L174.4,314.1 L175.2,314.3 L176.0,316.2 L176.8,317.4 L177.6,316.9 L178.4,316.2 L179.2,315.4 L179.9,316.8 L180.7,316.7 L181.5,314.5 L182.3,314.0 L183.1,316.7 L183.9,316.4 L184.7,314.0 L185.4,316.4 L186.2,317.6 L187.0,319.1 L187.8,316.5 L188.6,318.4 L189.4,316.0 L190.2,315.4 L191.0,316.5 L191.8,316.3 L192.5,317.5 L193.3,320.3 L194.1,318.0 L194.9,317.8 L195.7,318.1 L196.5,316.9 L197.3,319.5 L198.0,321.5 L198.8,319.7 L199.6,319.4 L200.4,319.0 L201.2,318.7 L202.0,318.4 L202.8,317.3 L203.6,318.7 L204.3,319.6 L205.1,318.0 L205.9,319.5 L206.7,320.8 L207.5,319.6 L208.3,319.4 L209.1,320.2 L209.9,319.5 L210.7,317.5 L211.4,318.9 L212.2,316.9 L213.0,319.8 L213.8,317.0 L214.6,317.0 L215.4,319.3 L216.2,319.4 L216.9,319.4 L217.7,319.3 L218.5,319.8 L219.3,318.3 L220.1,320.7 L220.9,321.0 L221.7,319.3 L222.5,320.4 L223.2,321.1 L224.0,319.9 L224.8,319.9 L225.6,320.4 L226.4,319.8 L227.2,321.9 L228.0,320.7 L228.8,321.4 L229.5,323.9 L230.3,321.6 L231.1,322.4 L231.9,322.9 L232.7,321.4 L233.5,321.9 L234.3,322.4 L235.1,322.6 L235.8,321.6 L236.6,322.0 L237.4,322.9 L238.2,320.8 L239.0,322.9 L239.8,323.3 L240.6,320.4 L241.4,321.3 L242.2,324.2 L242.9,322.4 L243.7,322.8 L244.5,323.7 L245.3,323.1 L246.1,322.1 L246.9,322.2 L247.7,323.0 L248.4,320.5 L249.2,320.7 L250.0,323.5 L250.8,322.6 L251.6,325.3 L252.4,323.6 L253.2,322.9 L254.0,322.1 L254.8,323.4 L255.5,323.2 L256.3,322.6 L257.1,320.8 L257.9,322.3 L258.7,323.2 L259.5,325.1 L260.3,325.5 L261.0,323.2 L261.8,322.9 L262.6,324.3 L263.4,322.7 L264.2,323.7 L265.0,323.1 L265.8,323.0 L266.6,322.8 L267.4,322.2 L268.1,324.5 L268.9,325.9 L269.7,324.1 L270.5,324.6 L271.3,325.7 L272.1,327.3 L272.9,325.8 L273.6,325.1 L274.4,324.3 L275.2,321.9 L276.0,323.5 L276.8,323.7 L277.6,323.8 L278.4,321.5 L279.2,322.0 L279.9,324.4 L280.7,325.5 L281.5,322.5 L282.3,323.7 L283.1,325.6 L283.9,325.8 L284.7,325.8 L285.5,326.7" fill="none" stroke="#1a1a1a" stroke-width="1.25" stroke-dasharray="1.1 2.1" stroke-linejoin="round"/>
<path d="M50.0,329.1 L50.8,328.7 L51.6,328.5 L52.4,328.9 L53.1,328.4 L53.9,329.3 L54.7,328.9 L55.5,328.4 L56.3,329.1 L57.1,328.4 L57.9,329.1 L58.7,328.4 L59.5,328.5 L60.2,328.7 L61.0,328.8 L61.8,329.3 L62.6,328.7 L63.4,328.6 L64.2,329.1 L65.0,328.9 L65.8,328.8 L66.5,328.6 L67.3,328.3 L68.1,328.7 L68.9,328.7 L69.7,328.8 L70.5,328.8 L71.3,328.4 L72.0,329.0 L72.8,328.9 L73.6,328.6 L74.4,328.8 L75.2,329.1 L76.0,328.8 L76.8,328.8 L77.6,329.0 L78.3,328.2 L79.1,328.6 L79.9,328.3 L80.7,328.6 L81.5,329.0 L82.3,328.6 L83.1,329.1 L83.9,328.9 L84.7,328.8 L85.4,329.3 L86.2,328.4 L87.0,328.5 L87.8,329.1 L88.6,329.1 L89.4,328.5 L90.2,329.4 L90.9,328.8 L91.7,328.3 L92.5,328.3 L93.3,329.1 L94.1,328.4 L94.9,328.3 L95.7,328.9 L96.5,328.3 L97.2,329.5" fill="none" stroke="#000" stroke-width="1.55" stroke-linejoin="round"/>
<path d="M104.3,329.1 L105.1,328.7 L105.9,328.5 L106.7,328.8 L107.5,329.2 L108.3,328.4 L109.1,328.5 L109.8,329.0 L110.6,329.0 L111.4,329.2 L112.2,329.0 L113.0,328.0 L113.8,328.9 L114.6,329.2 L115.4,329.2 L116.1,329.0 L116.9,329.3 L117.7,328.6 L118.5,329.2 L119.3,329.0 L120.1,328.7 L120.9,328.2 L121.7,328.0 L122.5,328.0 L123.2,328.0 L124.0,326.9 L124.8,327.6 L125.6,327.8 L126.4,327.8 L127.2,327.1 L128.0,327.3 L128.8,328.2 L129.5,327.8 L130.3,327.8 L131.1,328.0 L131.9,327.6 L132.7,327.4 L133.5,327.7 L134.3,327.1 L135.1,327.8 L135.8,328.0 L136.6,328.2 L137.4,328.5 L138.2,328.1 L139.0,327.7 L139.8,327.3 L140.6,327.5 L141.3,327.5 L142.1,328.2 L142.9,328.4 L143.7,327.9 L144.5,328.1 L145.3,327.9 L146.1,328.1 L146.9,327.3 L147.6,327.5 L148.4,327.2 L149.2,328.0 L150.0,327.9 L150.8,328.1 L151.6,327.5 L152.4,328.0 L153.2,327.8 L153.9,327.7 L154.7,327.8 L155.5,328.0 L156.3,327.7 L157.1,327.3 L157.9,328.3 L158.7,327.2 L159.5,327.6 L160.2,327.5 L161.0,327.7 L161.8,327.6 L162.6,327.6 L163.4,326.5 L164.2,327.4 L165.0,327.5 L165.8,327.7 L166.6,327.6 L167.3,328.5 L168.1,327.6 L168.9,327.8 L169.7,327.6 L170.5,327.6 L171.3,327.6 L172.1,327.8 L172.8,327.2 L173.6,327.5 L174.4,327.2 L175.2,327.6 L176.0,328.1 L176.8,327.9 L177.6,328.1 L178.4,327.8 L179.2,328.1 L179.9,328.2 L180.7,328.3 L181.5,327.3 L182.3,328.1 L183.1,328.1 L183.9,327.4 L184.7,328.4 L185.4,327.8 L186.2,328.0 L187.0,328.5 L187.8,328.2 L188.6,328.0 L189.4,327.1 L190.2,327.6 L191.0,327.6 L191.8,328.1 L192.5,328.0 L193.3,327.7 L194.1,327.9 L194.9,328.2 L195.7,327.3 L196.5,327.4 L197.3,328.2 L198.0,327.8 L198.8,327.7 L199.6,328.0 L200.4,327.9 L201.2,328.5 L202.0,328.0 L202.8,328.2 L203.6,327.9 L204.3,328.0 L205.1,328.0 L205.9,327.7 L206.7,328.3 L207.5,328.0 L208.3,327.6 L209.1,327.6 L209.9,327.9 L210.7,327.8 L211.4,328.3 L212.2,328.0 L213.0,327.8 L213.8,328.0 L214.6,328.8 L215.4,328.1 L216.2,328.2 L216.9,328.1 L217.7,328.5 L218.5,328.1 L219.3,327.9 L220.1,328.2 L220.9,327.3 L221.7,328.3 L222.5,327.5 L223.2,327.7 L224.0,328.4 L224.8,328.6 L225.6,328.2 L226.4,328.0 L227.2,328.4 L228.0,328.7 L228.8,327.8 L229.5,327.9 L230.3,328.3 L231.1,328.0 L231.9,327.9 L232.7,328.5 L233.5,328.0 L234.3,328.0 L235.1,327.5 L235.8,327.8 L236.6,328.3 L237.4,327.6 L238.2,328.2 L239.0,328.3 L239.8,328.5 L240.6,327.7 L241.4,327.8 L242.2,327.9 L242.9,328.3 L243.7,328.2 L244.5,327.9 L245.3,328.2 L246.1,327.9 L246.9,328.3 L247.7,328.1 L248.4,328.1 L249.2,328.1 L250.0,328.0 L250.8,328.3 L251.6,328.5 L252.4,328.5 L253.2,328.1 L254.0,328.9 L254.8,329.2 L255.5,327.7 L256.3,328.1 L257.1,328.1 L257.9,328.7 L258.7,328.1 L259.5,327.8 L260.3,328.4 L261.0,328.4 L261.8,329.0 L262.6,328.5 L263.4,328.2 L264.2,328.1 L265.0,328.0 L265.8,328.7 L266.6,328.7 L267.4,329.0 L268.1,328.8 L268.9,328.2 L269.7,328.6 L270.5,328.6 L271.3,328.8 L272.1,328.3 L272.9,327.9 L273.6,327.7 L274.4,328.2 L275.2,328.4 L276.0,328.9 L276.8,328.5 L277.6,328.5 L278.4,328.6 L279.2,328.8 L279.9,328.7 L280.7,328.8 L281.5,328.6 L282.3,328.4 L283.1,328.2 L283.9,328.8 L284.7,328.7 L285.5,328.8" fill="none" stroke="#000" stroke-width="1.55" stroke-linejoin="round"/>
<path d="M293.7,271.8 L294.3,266.9 L294.9,268.5 L295.5,269.7 L296.1,267.1 L296.7,266.6 L297.3,264.2 L297.9,262.7 L298.5,260.5 L299.1,260.1 L299.7,258.2 L300.3,256.1 L300.9,253.9 L301.5,252.4 L302.1,249.9 L302.7,249.0 L303.3,246.4 L303.9,243.5 L304.5,242.6 L305.1,240.3 L305.7,239.0 L306.3,235.2 L306.9,231.8 L307.5,230.0 L308.1,229.9 L308.7,226.7 L309.3,227.0 L309.9,226.4 L310.5,225.1 L311.1,225.3 L311.7,224.9 L312.3,226.7 L312.9,224.9 L313.5,224.7 L314.1,225.9 L314.7,224.9 L315.3,226.4 L315.9,224.3 L316.5,224.4 L317.1,223.7 L317.7,224.0 L318.3,225.1 L318.9,225.3 L319.5,224.8 L320.1,224.6 L320.7,224.0 L321.3,226.0 L321.9,226.4 L322.5,226.4 L323.1,227.4 L323.7,225.7 L324.3,224.9 L324.9,224.0 L325.5,224.9 L326.1,225.8 L326.7,226.6 L327.3,225.7 L327.9,224.9 L328.5,227.4 L329.1,228.0 L329.7,226.1 L330.3,228.0 L330.9,225.5 L331.5,227.9 L332.1,225.9 L332.7,227.0 L333.3,228.5 L333.9,228.2 L334.5,229.7" fill="none" stroke="#a9a9a9" stroke-width="1.3" stroke-linejoin="round"/>
<path d="M293.7,273.2 L294.3,273.9 L294.9,271.0 L295.5,269.8 L296.1,271.5 L296.7,267.9 L297.3,268.7 L297.9,268.2 L298.5,265.5 L299.1,265.9 L299.7,264.6 L300.3,259.5 L300.9,256.0 L301.5,254.6 L302.1,252.0 L302.7,252.2 L303.3,250.0 L303.9,247.9 L304.5,245.9 L305.1,246.0 L305.7,243.0 L306.3,241.1 L306.9,241.3 L307.5,238.4 L308.1,235.2 L308.7,236.0 L309.3,234.3 L309.9,230.7 L310.5,232.0 L311.1,227.8 L311.7,229.7 L312.3,229.1 L312.9,227.9 L313.5,227.3 L314.1,230.6 L314.7,228.3 L315.3,227.4 L315.9,227.0 L316.5,227.3 L317.1,228.0 L317.7,227.5 L318.3,228.0 L318.9,226.8 L319.5,225.8 L320.1,228.5 L320.7,229.3 L321.3,226.2 L321.9,227.4 L322.5,229.1 L323.1,229.6 L323.7,228.1 L324.3,228.2 L324.9,230.5 L325.5,229.6 L326.1,227.7 L326.7,227.8 L327.3,228.4 L327.9,228.8 L328.5,227.6 L329.1,229.2 L329.7,228.4 L330.3,229.1 L330.9,230.5 L331.5,229.9 L332.1,228.7 L332.7,227.7 L333.3,230.5 L333.9,229.0 L334.5,228.7" fill="none" stroke="#1a1a1a" stroke-width="1.25" stroke-dasharray="1.1 2.1" stroke-linejoin="round"/>
<path d="M293.7,288.9 L294.3,281.8 L294.9,284.5 L295.5,282.5 L296.1,279.3 L296.7,277.4 L297.3,277.5 L297.9,274.0 L298.5,273.5 L299.1,273.2 L299.7,268.0 L300.3,265.2 L300.9,260.5 L301.5,257.5 L302.1,251.7 L302.7,252.9 L303.3,251.3 L303.9,250.0 L304.5,247.9 L305.1,249.8 L305.7,247.3 L306.3,245.2 L306.9,244.7 L307.5,242.9 L308.1,241.9 L308.7,239.9 L309.3,237.1 L309.9,235.9 L310.5,233.6 L311.1,232.0 L311.7,231.9 L312.3,231.8 L312.9,230.2 L313.5,229.0 L314.1,230.5 L314.7,228.1 L315.3,230.6 L315.9,231.1 L316.5,230.1 L317.1,230.6 L317.7,230.1 L318.3,230.1 L318.9,229.1 L319.5,232.2 L320.1,236.1 L320.7,232.3 L321.3,229.0 L321.9,229.1 L322.5,230.7 L323.1,230.8 L323.7,231.3 L324.3,230.9 L324.9,228.9 L325.5,228.3 L326.1,230.1 L326.7,229.2 L327.3,229.8 L327.9,230.6 L328.5,231.1 L329.1,228.1 L329.7,229.7 L330.3,228.2 L330.9,228.4 L331.5,230.6 L332.1,228.1 L332.7,227.9 L333.3,229.4 L333.9,228.3 L334.5,228.9" fill="none" stroke="#000" stroke-width="1.8" stroke-linejoin="round"/>
<text x="53.7" y="60.5" font-size="18.95">Tnaive</text>
<text x="53" y="235.2" font-size="19">Treg</text>
<text x="105.1" y="128.3" font-size="19.3" text-anchor="middle">Str</text>
<text x="292.6" y="136.4" font-size="19.5" text-anchor="middle">Iono</text>
<text x="106" y="304" font-size="19.3" text-anchor="middle">Str</text>
<text x="292.9" y="314.8" font-size="19.5" text-anchor="middle">Iono</text>
<path d="M105.2,131.4 L105.2,149.1 M101.5,145.2 L105.2,149.5 L108.9,145.2" fill="none" stroke="#000" stroke-width="1.75"/>
<path d="M291.2,138.3 L291.2,151.5 M287.5,147.6 L291.2,151.9 L294.9,147.6" fill="none" stroke="#000" stroke-width="1.75"/>
<path d="M106,307.6 L106,324.40000000000003 M102.3,320.5 L106,324.8 L109.7,320.5" fill="none" stroke="#000" stroke-width="1.75"/>
<path d="M291.9,318 L291.9,330.8 M288.2,326.9 L291.9,331.2 L295.59999999999997,326.9" fill="none" stroke="#000" stroke-width="1.75"/>
<text x="43.7" y="77.5" font-size="14" text-anchor="end">1.5</text>
<text x="43.7" y="110.5" font-size="14" text-anchor="end">1.0</text>
<text x="43.7" y="143.5" font-size="14" text-anchor="end">0.5</text>
<text x="43.9" y="247.4" font-size="14" text-anchor="end">1.5</text>
<text x="43.9" y="282.90000000000003" font-size="14" text-anchor="end">1.0</text>
<text x="43.9" y="317.6" font-size="14" text-anchor="end">0.5</text>
<text x="50.0" y="179.2" font-size="13.8" text-anchor="middle">0</text>
<text x="50.0" y="352.2" font-size="13.8" text-anchor="middle">0</text>
<text x="129.4" y="179.2" font-size="13.8" text-anchor="middle">100</text>
<text x="129.4" y="352.2" font-size="13.8" text-anchor="middle">100</text>
<text x="208.8" y="179.2" font-size="13.8" text-anchor="middle">200</text>
<text x="208.8" y="352.2" font-size="13.8" text-anchor="middle">200</text>
<text x="288.2" y="179.2" font-size="13.8" text-anchor="middle">300</text>
<text x="288.2" y="352.2" font-size="13.8" text-anchor="middle">300</text>
<line x1="12.55" y1="50" x2="12.55" y2="234.4" stroke="#000" stroke-width="2.2"/>
<path d="M12.5,42.5 L17.3,50.9 L7.7,50.9 Z" fill="#000"/>
<text transform="translate(17.8,335.4) rotate(-90)" font-size="19.4">Indo-1 ratio</text>
<text x="49" y="371" font-size="19.4">Time (s)</text>
<line x1="123.4" y1="366" x2="327" y2="366" stroke="#000" stroke-width="1.85"/>
<path d="M334.8,366 L326.2,361.2 L326.2,370.8 Z" fill="#000"/>
<text x="5.5" y="20.6" font-size="23.6" font-weight="bold">a</text>
<text x="390.3" y="19.9" font-size="22.9" font-weight="bold">b</text>
<text x="6.0" y="390.8" font-size="23.6" font-weight="bold">c</text>
<rect x="414.5" y="38.7" width="124.20000000000005" height="124.10000000000001" fill="#fff" stroke="#000" stroke-width="1.3"/>
<path d="M414.9,133.6 L415.6,131.5 L416.3,129.7 L417.0,127.7 L417.7,124.8 L418.4,121.4 L419.1,115.7 L419.8,108.6 L420.5,101.0 L421.2,93.6 L421.9,86.8 L422.6,79.2 L423.3,72.5 L424.0,65.9 L424.7,60.4 L425.4,54.8 L426.1,50.2 L426.8,47.6 L427.5,45.8 L428.2,44.6 L428.9,44.8 L429.6,45.8 L430.3,48.1 L431.0,50.6 L431.7,55.1 L432.4,60.7 L433.1,66.8 L433.8,72.4 L434.5,78.8 L435.2,85.0 L435.9,91.1 L436.6,96.5 L437.3,101.4 L438.0,106.2 L438.7,111.3 L439.4,115.1 L440.1,118.4 L440.8,121.5 L441.5,124.5 L442.2,126.8 L442.9,128.5 L443.6,130.0 L444.3,131.4 L445.0,132.4 L445.7,133.0 L446.4,133.5 L447.1,133.9 L447.8,134.2 L448.5,134.3 L449.2,134.3 L449.9,134.3 L450.6,134.3 L451.3,134.3 L452.0,134.3 L452.7,134.3 L453.4,134.3 L454.1,134.3 L454.8,134.3 L455.5,134.3 L456.2,134.3 L456.9,134.3 L457.6,134.3 L458.3,134.3 L459.0,134.3 L459.7,134.3 L460.4,134.3 L461.1,134.3 L461.8,134.3 L462.5,134.3 L463.2,134.3 L463.9,134.3 L464.6,134.3 L465.3,134.3 L466.0,134.3 L466.7,134.3 L467.4,134.3 L468.1,134.3 L468.8,134.3 L469.5,134.3 L470.2,134.3 L470.9,134.3 L471.6,134.3 L472.3,134.3 L473.0,134.3 L473.7,134.3 L474.4,134.3 L475.1,134.3 L475.8,134.3 L476.5,134.3 L477.2,134.3 L477.9,134.3 L478.6,134.3 L479.3,134.3 L480.0,134.3 L480.7,134.3 L481.4,134.3 L482.1,134.3 L482.8,134.3 L483.5,134.3 L484.2,134.3 L484.9,134.3 L485.6,134.3 L486.3,134.3 L487.0,134.3 L487.7,134.3 L488.4,134.3 L489.1,134.3 L489.8,134.3 L490.5,134.3 L491.2,134.3 L491.9,134.3 L492.6,134.3 L493.3,134.3 L494.0,134.3 L494.7,134.3 L495.4,134.3 L496.1,134.3 L496.8,134.3 L497.5,134.3 L498.2,134.3 L498.9,134.3 L499.6,134.3 L500.3,134.3 L501.0,134.3 L501.7,134.3 L502.4,134.3 L503.1,134.3 L503.8,134.3 L504.5,134.3 L505.2,134.3 L505.9,134.3 L506.6,134.3 L507.3,134.3 L508.0,134.3 L508.7,134.3 L509.4,134.3 L510.1,134.3 L510.8,134.3 L511.5,134.3 L512.2,134.3 L512.9,134.3 L513.6,134.3 L514.3,134.3 L515.0,134.3 L515.7,134.3 L516.4,134.3 L517.1,134.3 L517.8,134.3 L518.5,134.3 L519.2,134.3 L519.9,134.3 L520.6,134.3 L521.3,134.3 L522.0,134.3 L522.7,134.3 L523.4,134.3 L524.1,134.3 L524.8,134.3 L525.5,134.3 L526.2,134.3 L526.9,134.3 L527.6,134.3 L528.3,134.3 L529.0,134.3 L529.7,134.3 L530.4,134.3 L531.1,134.3 L531.8,134.3 L532.5,134.3 L533.2,134.3 L533.9,134.3 L534.6,134.3 L535.3,134.3 L536.0,134.3 L536.7,134.3 L537.4,134.3" fill="none" stroke="#636363" stroke-width="1.8" stroke-linejoin="round" stroke-linecap="butt"/>
<path d="M414.9,161.6 L415.6,159.6 L416.3,157.7 L417.0,156.0 L417.7,153.2 L418.4,148.7 L419.1,145.4 L419.8,138.8 L420.5,132.3 L421.2,126.5 L421.9,120.8 L422.6,115.8 L423.3,109.4 L424.0,102.8 L424.7,95.3 L425.4,87.5 L426.1,81.7 L426.8,77.4 L427.5,73.0 L428.2,72.9 L428.9,73.5 L429.6,72.3 L430.3,77.3 L431.0,83.4 L431.7,90.4 L432.4,95.3 L433.1,100.8 L433.8,105.3 L434.5,110.3 L435.2,113.4 L435.9,120.3 L436.6,124.3 L437.3,129.2 L438.0,136.3 L438.7,140.4 L439.4,146.1 L440.1,149.6 L440.8,151.1 L441.5,154.3 L442.2,154.4 L442.9,155.8 L443.6,156.5 L444.3,157.3 L445.0,158.0 L445.7,158.4 L446.4,158.7 L447.1,159.0 L447.8,159.3 L448.5,159.3 L449.2,159.6 L449.9,159.8 L450.6,160.2 L451.3,160.4 L452.0,160.8 L452.7,160.8 L453.4,161.1 L454.1,161.3 L454.8,161.5 L455.5,161.5 L456.2,161.5 L456.9,161.5 L457.6,161.5 L458.3,161.5 L459.0,161.5 L459.7,161.5 L460.4,161.5 L461.1,161.5 L461.8,161.5 L462.5,161.5 L463.2,161.5 L463.9,161.5 L464.6,161.5 L465.3,161.5 L466.0,161.5 L466.7,161.5 L467.4,161.5 L468.1,161.5 L468.8,161.5 L469.5,161.5 L470.2,161.5 L470.9,161.5 L471.6,161.5 L472.3,161.5 L473.0,161.5 L473.7,161.5 L474.4,161.5 L475.1,161.6 L475.8,161.5 L476.5,161.6 L477.2,161.6 L477.9,161.6 L478.6,161.6 L479.3,161.6 L480.0,161.6 L480.7,161.6 L481.4,161.6 L482.1,161.6 L482.8,161.6 L483.5,161.6 L484.2,161.6 L484.9,161.6 L485.6,161.6 L486.3,161.6 L487.0,161.6 L487.7,161.6 L488.4,161.6 L489.1,161.6 L489.8,161.6 L490.5,161.6 L491.2,161.6 L491.9,161.6 L492.6,161.6 L493.3,161.6 L494.0,161.6 L494.7,161.6 L495.4,161.6 L496.1,161.6 L496.8,161.6 L497.5,161.6 L498.2,161.6 L498.9,161.6 L499.6,161.6 L500.3,161.6 L501.0,161.6 L501.7,161.6 L502.4,161.6 L503.1,161.6 L503.8,161.6 L504.5,161.6 L505.2,161.6 L505.9,161.6 L506.6,161.6 L507.3,161.6 L508.0,161.6 L508.7,161.6 L509.4,161.6 L510.1,161.6 L510.8,161.6 L511.5,161.6 L512.2,161.6 L512.9,161.6 L513.6,161.6 L514.3,161.6 L515.0,161.6 L515.7,161.6 L516.4,161.6 L517.1,161.6 L517.8,161.6 L518.5,161.6 L519.2,161.6 L519.9,161.6 L520.6,161.6 L521.3,161.6 L522.0,161.6 L522.7,161.6 L523.4,161.6 L524.1,161.6 L524.8,161.6 L525.5,161.6 L526.2,161.6 L526.9,161.6 L527.6,161.6 L528.3,161.6 L529.0,161.6 L529.7,161.6 L530.4,161.6 L531.1,161.6 L531.8,161.6 L532.5,161.6 L533.2,161.6 L533.9,161.6 L534.6,161.6 L535.3,161.6 L536.0,161.6 L536.7,161.6 L537.4,161.6" fill="none" stroke="#000" stroke-width="2.0" stroke-linejoin="round" stroke-linecap="butt"/>
<line x1="413.85" y1="162.8" x2="539.35" y2="162.8" stroke="#000" stroke-width="2.2"/>
<line x1="415.4" y1="163.8" x2="415.4" y2="166.4" stroke="#222" stroke-width="0.9"/>
<line x1="424.3" y1="163.8" x2="424.3" y2="165.3" stroke="#222" stroke-width="0.6"/>
<line x1="429.5" y1="163.8" x2="429.5" y2="165.3" stroke="#222" stroke-width="0.6"/>
<line x1="433.2" y1="163.8" x2="433.2" y2="165.3" stroke="#222" stroke-width="0.6"/>
<line x1="436.1" y1="163.8" x2="436.1" y2="165.3" stroke="#222" stroke-width="0.6"/>
<line x1="438.4" y1="163.8" x2="438.4" y2="165.3" stroke="#222" stroke-width="0.6"/>
<line x1="440.4" y1="163.8" x2="440.4" y2="165.3" stroke="#222" stroke-width="0.6"/>
<line x1="442.1" y1="163.8" x2="442.1" y2="165.3" stroke="#222" stroke-width="0.6"/>
<line x1="443.6" y1="163.8" x2="443.6" y2="165.3" stroke="#222" stroke-width="0.6"/>
<line x1="445.0" y1="163.8" x2="445.0" y2="166.4" stroke="#222" stroke-width="0.9"/>
<line x1="453.9" y1="163.8" x2="453.9" y2="165.3" stroke="#222" stroke-width="0.6"/>
<line x1="459.1" y1="163.8" x2="459.1" y2="165.3" stroke="#222" stroke-width="0.6"/>
<line x1="462.8" y1="163.8" x2="462.8" y2="165.3" stroke="#222" stroke-width="0.6"/>
<line x1="465.6" y1="163.8" x2="465.6" y2="165.3" stroke="#222" stroke-width="0.6"/>
<line x1="468.0" y1="163.8" x2="468.0" y2="165.3" stroke="#222" stroke-width="0.6"/>
<line x1="470.0" y1="163.8" x2="470.0" y2="165.3" stroke="#222" stroke-width="0.6"/>
<line x1="471.7" y1="163.8" x2="471.7" y2="165.3" stroke="#222" stroke-width="0.6"/>
<line x1="473.2" y1="163.8" x2="473.2" y2="165.3" stroke="#222" stroke-width="0.6"/>
<line x1="474.5" y1="163.8" x2="474.5" y2="166.4" stroke="#222" stroke-width="0.9"/>
<line x1="483.4" y1="163.8" x2="483.4" y2="165.3" stroke="#222" stroke-width="0.6"/>
<line x1="488.7" y1="163.8" x2="488.7" y2="165.3" stroke="#222" stroke-width="0.6"/>
<line x1="492.3" y1="163.8" x2="492.3" y2="165.3" stroke="#222" stroke-width="0.6"/>
<line x1="495.2" y1="163.8" x2="495.2" y2="165.3" stroke="#222" stroke-width="0.6"/>
<line x1="497.6" y1="163.8" x2="497.6" y2="165.3" stroke="#222" stroke-width="0.6"/>
<line x1="499.5" y1="163.8" x2="499.5" y2="165.3" stroke="#222" stroke-width="0.6"/>
<line x1="501.2" y1="163.8" x2="501.2" y2="165.3" stroke="#222" stroke-width="0.6"/>
<line x1="502.8" y1="163.8" x2="502.8" y2="165.3" stroke="#222" stroke-width="0.6"/>
<line x1="504.1" y1="163.8" x2="504.1" y2="166.4" stroke="#222" stroke-width="0.9"/>
<line x1="513.0" y1="163.8" x2="513.0" y2="165.3" stroke="#222" stroke-width="0.6"/>
<line x1="518.2" y1="163.8" x2="518.2" y2="165.3" stroke="#222" stroke-width="0.6"/>
<line x1="521.9" y1="163.8" x2="521.9" y2="165.3" stroke="#222" stroke-width="0.6"/>
<line x1="524.8" y1="163.8" x2="524.8" y2="165.3" stroke="#222" stroke-width="0.6"/>
<line x1="527.1" y1="163.8" x2="527.1" y2="165.3" stroke="#222" stroke-width="0.6"/>
<line x1="529.1" y1="163.8" x2="529.1" y2="165.3" stroke="#222" stroke-width="0.6"/>
<line x1="530.8" y1="163.8" x2="530.8" y2="165.3" stroke="#222" stroke-width="0.6"/>
<line x1="532.3" y1="163.8" x2="532.3" y2="165.3" stroke="#222" stroke-width="0.6"/>
<line x1="533.7" y1="163.8" x2="533.7" y2="166.4" stroke="#222" stroke-width="0.9"/>
<path d="M447.6,110.2 L537.1,110.2 M447.6,107.3 L447.6,113.10000000000001 M537.1,107.3 L537.1,113.10000000000001" stroke="#1a1a1a" stroke-width="1.25" fill="none"/>
<text x="534.4" y="129.7" font-size="17" text-anchor="end">1.77</text>
<text x="534.9" y="157.9" font-size="17" text-anchor="end">1.68</text>
<rect x="640.1" y="38.4" width="124.69999999999993" height="124.4" fill="#fff" stroke="#000" stroke-width="1.3"/>
<path d="M640.5,133.9 L641.2,133.8 L641.9,133.7 L642.6,133.6 L643.3,133.5 L644.0,133.4 L644.7,133.3 L645.4,133.3 L646.1,133.2 L646.8,133.1 L647.5,133.0 L648.2,132.9 L648.9,132.7 L649.6,132.7 L650.3,132.6 L651.0,132.5 L651.7,132.5 L652.4,132.2 L653.1,132.1 L653.8,132.0 L654.5,131.8 L655.2,131.7 L655.9,131.5 L656.6,131.2 L657.3,131.0 L658.0,130.9 L658.7,130.7 L659.4,130.6 L660.1,130.7 L660.8,130.5 L661.5,130.4 L662.2,130.2 L662.9,130.4 L663.6,130.2 L664.3,130.6 L665.0,130.6 L665.7,130.3 L666.4,130.5 L667.1,130.7 L667.8,130.7 L668.5,130.7 L669.2,130.7 L669.9,131.0 L670.6,130.8 L671.3,130.7 L672.0,130.8 L672.7,130.9 L673.4,130.9 L674.1,130.6 L674.8,130.4 L675.5,130.2 L676.2,130.0 L676.9,130.0 L677.6,129.8 L678.3,129.6 L679.0,129.0 L679.7,128.6 L680.4,127.6 L681.1,126.4 L681.8,124.3 L682.5,123.6 L683.2,122.0 L683.9,120.9 L684.6,118.3 L685.3,116.4 L686.0,113.8 L686.7,111.5 L687.4,108.1 L688.1,104.5 L688.8,100.5 L689.5,95.8 L690.2,91.0 L690.9,85.9 L691.6,81.0 L692.3,76.3 L693.0,70.0 L693.7,65.3 L694.4,60.5 L695.1,56.1 L695.8,51.1 L696.5,49.9 L697.2,46.0 L697.9,44.8 L698.6,47.5 L699.3,50.1 L700.0,55.6 L700.7,61.5 L701.4,68.2 L702.1,77.2 L702.8,86.9 L703.5,98.2 L704.2,107.2 L704.9,115.8 L705.6,123.3 L706.3,126.6 L707.0,130.4 L707.7,132.5 L708.4,133.1 L709.1,133.5 L709.8,133.7 L710.5,133.9 L711.2,133.9 L711.9,133.9 L712.6,133.9 L713.3,133.9 L714.0,133.9 L714.7,133.9 L715.4,133.9 L716.1,133.9 L716.8,133.9 L717.5,133.9 L718.2,133.9 L718.9,133.9 L719.6,133.9 L720.3,133.9 L721.0,133.9 L721.7,133.9 L722.4,133.9 L723.1,133.9 L723.8,133.9 L724.5,133.9 L725.2,133.9 L725.9,133.9 L726.6,133.9 L727.3,133.9 L728.0,133.9 L728.7,133.9 L729.4,133.9 L730.1,133.9 L730.8,133.9 L731.5,133.9 L732.2,133.9 L732.9,133.9 L733.6,133.9 L734.3,133.9 L735.0,133.9 L735.7,133.9 L736.4,133.9 L737.1,133.9 L737.8,133.9 L738.5,133.9 L739.2,133.9 L739.9,133.9 L740.6,133.9 L741.3,133.9 L742.0,133.9 L742.7,133.9 L743.4,133.9 L744.1,133.9 L744.8,133.9 L745.5,133.9 L746.2,133.9 L746.9,133.9 L747.6,133.9 L748.3,133.9 L749.0,133.9 L749.7,133.9 L750.4,133.9 L751.1,133.9 L751.8,133.9 L752.5,133.9 L753.2,133.9 L753.9,133.9 L754.6,133.9 L755.3,133.9 L756.0,133.9 L756.7,133.9 L757.4,133.9 L758.1,133.9 L758.8,133.9 L759.5,133.9 L760.2,133.9 L760.9,133.9 L761.6,133.9 L762.3,133.9 L763.0,133.9 L763.7,133.9 L764.4,133.9" fill="none" stroke="#8e8e8e" stroke-width="1.8" stroke-linejoin="round" stroke-linecap="butt"/>
<path d="M640.5,162.1 L641.2,162.0 L641.9,161.9 L642.6,161.8 L643.3,161.7 L644.0,161.6 L644.7,161.5 L645.4,161.4 L646.1,161.3 L646.8,161.2 L647.5,161.1 L648.2,160.8 L648.9,160.3 L649.6,160.2 L650.3,159.5 L651.0,159.0 L651.7,159.3 L652.4,158.7 L653.1,157.8 L653.8,157.4 L654.5,157.4 L655.2,156.9 L655.9,156.7 L656.6,156.0 L657.3,154.6 L658.0,154.2 L658.7,155.7 L659.4,155.0 L660.1,153.1 L660.8,154.9 L661.5,155.0 L662.2,155.3 L662.9,154.9 L663.6,155.3 L664.3,154.6 L665.0,154.2 L665.7,155.3 L666.4,155.6 L667.1,155.4 L667.8,154.7 L668.5,155.4 L669.2,155.2 L669.9,155.9 L670.6,154.5 L671.3,154.3 L672.0,154.2 L672.7,154.3 L673.4,154.7 L674.1,153.7 L674.8,151.6 L675.5,151.4 L676.2,153.4 L676.9,151.4 L677.6,150.2 L678.3,150.0 L679.0,149.2 L679.7,149.3 L680.4,145.6 L681.1,141.8 L681.8,138.4 L682.5,137.4 L683.2,133.0 L683.9,129.7 L684.6,126.3 L685.3,120.4 L686.0,119.0 L686.7,111.5 L687.4,105.9 L688.1,100.0 L688.8,95.0 L689.5,89.0 L690.2,83.6 L690.9,80.0 L691.6,76.9 L692.3,73.4 L693.0,71.8 L693.7,74.7 L694.4,79.3 L695.1,79.8 L695.8,82.7 L696.5,86.4 L697.2,99.2 L697.9,110.5 L698.6,121.3 L699.3,133.2 L700.0,138.6 L700.7,148.0 L701.4,156.8 L702.1,158.2 L702.8,159.9 L703.5,160.8 L704.2,161.6 L704.9,161.7 L705.6,161.7 L706.3,161.7 L707.0,161.7 L707.7,161.7 L708.4,161.7 L709.1,161.7 L709.8,161.7 L710.5,161.7 L711.2,161.7 L711.9,161.7 L712.6,161.7 L713.3,161.7 L714.0,161.7 L714.7,161.7 L715.4,161.7 L716.1,161.8 L716.8,161.8 L717.5,161.7 L718.2,161.7 L718.9,161.7 L719.6,161.7 L720.3,161.8 L721.0,161.8 L721.7,161.8 L722.4,161.8 L723.1,161.8 L723.8,161.8 L724.5,161.8 L725.2,161.8 L725.9,161.8 L726.6,161.8 L727.3,161.8 L728.0,161.8 L728.7,161.8 L729.4,161.8 L730.1,161.8 L730.8,161.8 L731.5,161.8 L732.2,161.8 L732.9,161.8 L733.6,161.8 L734.3,161.8 L735.0,161.8 L735.7,161.8 L736.4,161.8 L737.1,161.8 L737.8,161.8 L738.5,161.8 L739.2,161.8 L739.9,161.8 L740.6,161.8 L741.3,161.8 L742.0,161.8 L742.7,161.8 L743.4,161.8 L744.1,161.8 L744.8,161.8 L745.5,161.8 L746.2,161.8 L746.9,161.8 L747.6,161.8 L748.3,161.8 L749.0,161.8 L749.7,161.8 L750.4,161.8 L751.1,161.8 L751.8,161.8 L752.5,161.8 L753.2,161.8 L753.9,161.8 L754.6,161.8 L755.3,161.8 L756.0,161.8 L756.7,161.8 L757.4,161.8 L758.1,161.8 L758.8,161.8 L759.5,161.8 L760.2,161.8 L760.9,161.8 L761.6,161.8 L762.3,161.8 L763.0,161.8 L763.7,161.8 L764.4,161.8" fill="none" stroke="#000" stroke-width="2.0" stroke-linejoin="round" stroke-linecap="butt"/>
<line x1="639.45" y1="162.8" x2="765.4499999999999" y2="162.8" stroke="#000" stroke-width="2.2"/>
<line x1="641.0" y1="163.8" x2="641.0" y2="166.4" stroke="#222" stroke-width="0.9"/>
<line x1="649.9" y1="163.8" x2="649.9" y2="165.3" stroke="#222" stroke-width="0.6"/>
<line x1="655.2" y1="163.8" x2="655.2" y2="165.3" stroke="#222" stroke-width="0.6"/>
<line x1="658.9" y1="163.8" x2="658.9" y2="165.3" stroke="#222" stroke-width="0.6"/>
<line x1="661.8" y1="163.8" x2="661.8" y2="165.3" stroke="#222" stroke-width="0.6"/>
<line x1="664.1" y1="163.8" x2="664.1" y2="165.3" stroke="#222" stroke-width="0.6"/>
<line x1="666.1" y1="163.8" x2="666.1" y2="165.3" stroke="#222" stroke-width="0.6"/>
<line x1="667.8" y1="163.8" x2="667.8" y2="165.3" stroke="#222" stroke-width="0.6"/>
<line x1="669.3" y1="163.8" x2="669.3" y2="165.3" stroke="#222" stroke-width="0.6"/>
<line x1="670.7" y1="163.8" x2="670.7" y2="166.4" stroke="#222" stroke-width="0.9"/>
<line x1="679.6" y1="163.8" x2="679.6" y2="165.3" stroke="#222" stroke-width="0.6"/>
<line x1="684.9" y1="163.8" x2="684.9" y2="165.3" stroke="#222" stroke-width="0.6"/>
<line x1="688.6" y1="163.8" x2="688.6" y2="165.3" stroke="#222" stroke-width="0.6"/>
<line x1="691.4" y1="163.8" x2="691.4" y2="165.3" stroke="#222" stroke-width="0.6"/>
<line x1="693.8" y1="163.8" x2="693.8" y2="165.3" stroke="#222" stroke-width="0.6"/>
<line x1="695.8" y1="163.8" x2="695.8" y2="165.3" stroke="#222" stroke-width="0.6"/>
<line x1="697.5" y1="163.8" x2="697.5" y2="165.3" stroke="#222" stroke-width="0.6"/>
<line x1="699.0" y1="163.8" x2="699.0" y2="165.3" stroke="#222" stroke-width="0.6"/>
<line x1="700.4" y1="163.8" x2="700.4" y2="166.4" stroke="#222" stroke-width="0.9"/>
<line x1="709.3" y1="163.8" x2="709.3" y2="165.3" stroke="#222" stroke-width="0.6"/>
<line x1="714.5" y1="163.8" x2="714.5" y2="165.3" stroke="#222" stroke-width="0.6"/>
<line x1="718.3" y1="163.8" x2="718.3" y2="165.3" stroke="#222" stroke-width="0.6"/>
<line x1="721.1" y1="163.8" x2="721.1" y2="165.3" stroke="#222" stroke-width="0.6"/>
<line x1="723.5" y1="163.8" x2="723.5" y2="165.3" stroke="#222" stroke-width="0.6"/>
<line x1="725.5" y1="163.8" x2="725.5" y2="165.3" stroke="#222" stroke-width="0.6"/>
<line x1="727.2" y1="163.8" x2="727.2" y2="165.3" stroke="#222" stroke-width="0.6"/>
<line x1="728.7" y1="163.8" x2="728.7" y2="165.3" stroke="#222" stroke-width="0.6"/>
<line x1="730.1" y1="163.8" x2="730.1" y2="166.4" stroke="#222" stroke-width="0.9"/>
<line x1="739.0" y1="163.8" x2="739.0" y2="165.3" stroke="#222" stroke-width="0.6"/>
<line x1="744.2" y1="163.8" x2="744.2" y2="165.3" stroke="#222" stroke-width="0.6"/>
<line x1="747.9" y1="163.8" x2="747.9" y2="165.3" stroke="#222" stroke-width="0.6"/>
<line x1="750.8" y1="163.8" x2="750.8" y2="165.3" stroke="#222" stroke-width="0.6"/>
<line x1="753.2" y1="163.8" x2="753.2" y2="165.3" stroke="#222" stroke-width="0.6"/>
<line x1="755.2" y1="163.8" x2="755.2" y2="165.3" stroke="#222" stroke-width="0.6"/>
<line x1="756.9" y1="163.8" x2="756.9" y2="165.3" stroke="#222" stroke-width="0.6"/>
<line x1="758.4" y1="163.8" x2="758.4" y2="165.3" stroke="#222" stroke-width="0.6"/>
<line x1="759.8" y1="163.8" x2="759.8" y2="166.4" stroke="#222" stroke-width="0.9"/>
<path d="M673.6,109.8 L762.6,109.8 M673.6,106.89999999999999 L673.6,112.7 M762.6,106.89999999999999 L762.6,112.7" stroke="#1a1a1a" stroke-width="1.25" fill="none"/>
<text x="763.1" y="129.9" font-size="17" text-anchor="end">95.6</text>
<text x="763.5" y="158" font-size="17" text-anchor="end">89.5</text>
<rect x="414" y="213" width="123.29999999999995" height="122.80000000000001" fill="#fff" stroke="#000" stroke-width="1.3"/>
<path d="M414.4,308.3 L415.1,308.1 L415.8,308.0 L416.5,307.8 L417.2,307.7 L417.9,307.5 L418.6,307.3 L419.3,307.2 L420.0,306.9 L420.7,306.9 L421.4,306.6 L422.1,306.2 L422.8,305.8 L423.5,305.2 L424.2,304.1 L424.9,302.9 L425.6,302.3 L426.3,300.3 L427.0,300.0 L427.7,298.5 L428.4,296.5 L429.1,294.3 L429.8,294.5 L430.5,293.4 L431.2,291.9 L431.9,288.7 L432.6,288.9 L433.3,287.2 L434.0,285.3 L434.7,282.9 L435.4,280.5 L436.1,280.0 L436.8,276.9 L437.5,273.4 L438.2,272.2 L438.9,267.8 L439.6,265.6 L440.3,261.0 L441.0,257.9 L441.7,253.8 L442.4,249.6 L443.1,241.7 L443.8,236.6 L444.5,234.3 L445.2,231.2 L445.9,225.0 L446.6,220.7 L447.3,219.6 L448.0,218.3 L448.7,219.5 L449.4,219.2 L450.1,219.5 L450.8,220.0 L451.5,220.6 L452.2,222.2 L452.9,229.0 L453.6,235.9 L454.3,238.2 L455.0,240.2 L455.7,242.1 L456.4,244.5 L457.1,246.6 L457.8,247.9 L458.5,250.1 L459.2,252.9 L459.9,254.0 L460.6,255.3 L461.3,254.8 L462.0,253.0 L462.7,252.3 L463.4,251.5 L464.1,251.9 L464.8,250.6 L465.5,252.8 L466.2,251.1 L466.9,251.1 L467.6,251.5 L468.3,251.4 L469.0,252.3 L469.7,252.4 L470.4,253.6 L471.1,252.4 L471.8,253.4 L472.5,253.4 L473.2,253.5 L473.9,252.4 L474.6,255.4 L475.3,258.2 L476.0,261.0 L476.7,266.7 L477.4,272.8 L478.1,278.5 L478.8,283.7 L479.5,288.5 L480.2,294.9 L480.9,298.6 L481.6,302.1 L482.3,304.3 L483.0,306.2 L483.7,307.3 L484.4,307.7 L485.1,308.0 L485.8,308.2 L486.5,308.3 L487.2,308.3 L487.9,308.3 L488.6,308.3 L489.3,308.3 L490.0,308.3 L490.7,308.3 L491.4,308.3 L492.1,308.3 L492.8,308.3 L493.5,308.3 L494.2,308.3 L494.9,308.3 L495.6,308.3 L496.3,308.3 L497.0,308.3 L497.7,308.3 L498.4,308.3 L499.1,308.3 L499.8,308.3 L500.5,308.3 L501.2,308.3 L501.9,308.3 L502.6,308.3 L503.3,308.3 L504.0,308.3 L504.7,308.3 L505.4,308.3 L506.1,308.3 L506.8,308.3 L507.5,308.3 L508.2,308.3 L508.9,308.3 L509.6,308.3 L510.3,308.3 L511.0,308.3 L511.7,308.3 L512.4,308.3 L513.1,308.3 L513.8,308.3 L514.5,308.3 L515.2,308.3 L515.9,308.3 L516.6,308.3 L517.3,308.3 L518.0,308.3 L518.7,308.3 L519.4,308.3 L520.1,308.3 L520.8,308.3 L521.5,308.3 L522.2,308.3 L522.9,308.3 L523.6,308.3 L524.3,308.3 L525.0,308.3 L525.7,308.3 L526.4,308.3 L527.1,308.3 L527.8,308.3 L528.5,308.3 L529.2,308.3 L529.9,308.3 L530.6,308.3 L531.3,308.3 L532.0,308.3 L532.7,308.3 L533.4,308.3 L534.1,308.3 L534.8,308.3 L535.5,308.3 L536.2,308.3" fill="none" stroke="#808080" stroke-width="1.8" stroke-linejoin="round" stroke-linecap="butt"/>
<path d="M414.4,335.0 L415.1,335.0 L415.8,334.9 L416.5,334.9 L417.2,334.9 L417.9,334.8 L418.6,334.7 L419.3,334.5 L420.0,334.3 L420.7,333.9 L421.4,333.5 L422.1,333.2 L422.8,332.7 L423.5,332.1 L424.2,331.7 L424.9,330.6 L425.6,330.0 L426.3,328.2 L427.0,327.5 L427.7,325.7 L428.4,323.3 L429.1,321.7 L429.8,319.7 L430.5,317.7 L431.2,315.2 L431.9,311.9 L432.6,309.7 L433.3,306.5 L434.0,302.4 L434.7,299.9 L435.4,296.6 L436.1,293.3 L436.8,289.4 L437.5,285.9 L438.2,281.5 L438.9,278.8 L439.6,274.5 L440.3,270.6 L441.0,265.9 L441.7,261.2 L442.4,257.8 L443.1,254.5 L443.8,251.4 L444.5,249.1 L445.2,247.8 L445.9,247.2 L446.6,249.0 L447.3,252.7 L448.0,256.0 L448.7,261.6 L449.4,268.4 L450.1,274.5 L450.8,280.9 L451.5,287.0 L452.2,293.0 L452.9,299.0 L453.6,305.7 L454.3,312.1 L455.0,318.2 L455.7,323.5 L456.4,326.7 L457.1,328.8 L457.8,330.7 L458.5,332.2 L459.2,332.9 L459.9,333.4 L460.6,333.8 L461.3,334.1 L462.0,334.3 L462.7,334.5 L463.4,334.5 L464.1,334.5 L464.8,334.5 L465.5,334.5 L466.2,334.5 L466.9,334.6 L467.6,334.6 L468.3,334.6 L469.0,334.6 L469.7,334.6 L470.4,334.6 L471.1,334.6 L471.8,334.6 L472.5,334.7 L473.2,334.7 L473.9,334.7 L474.6,334.7 L475.3,334.7 L476.0,334.7 L476.7,334.7 L477.4,334.7 L478.1,334.7 L478.8,334.7 L479.5,334.7 L480.2,334.7 L480.9,334.8 L481.6,334.7 L482.3,334.8 L483.0,334.8 L483.7,334.8 L484.4,334.8 L485.1,334.8 L485.8,334.8 L486.5,334.8 L487.2,334.8 L487.9,334.8 L488.6,334.8 L489.3,334.8 L490.0,334.8 L490.7,334.8 L491.4,334.8 L492.1,334.8 L492.8,334.8 L493.5,334.8 L494.2,334.8 L494.9,334.8 L495.6,334.9 L496.3,334.8 L497.0,334.8 L497.7,334.8 L498.4,334.9 L499.1,334.9 L499.8,334.9 L500.5,334.9 L501.2,334.9 L501.9,334.9 L502.6,334.9 L503.3,334.9 L504.0,334.9 L504.7,334.9 L505.4,334.9 L506.1,334.9 L506.8,334.9 L507.5,334.9 L508.2,334.9 L508.9,334.9 L509.6,334.9 L510.3,334.9 L511.0,334.9 L511.7,334.9 L512.4,334.9 L513.1,334.9 L513.8,334.9 L514.5,334.9 L515.2,334.9 L515.9,334.9 L516.6,334.9 L517.3,334.9 L518.0,334.9 L518.7,334.9 L519.4,334.9 L520.1,334.9 L520.8,334.9 L521.5,334.9 L522.2,334.9 L522.9,334.9 L523.6,334.9 L524.3,334.9 L525.0,334.9 L525.7,334.9 L526.4,334.9 L527.1,334.9 L527.8,335.0 L528.5,335.0 L529.2,335.0 L529.9,335.0 L530.6,335.0 L531.3,335.0 L532.0,335.0 L532.7,335.0 L533.4,335.0 L534.1,335.0 L534.8,335.0 L535.5,335.0 L536.2,335.0" fill="none" stroke="#000" stroke-width="2.0" stroke-linejoin="round" stroke-linecap="butt"/>
<line x1="413.35" y1="335.8" x2="537.9499999999999" y2="335.8" stroke="#000" stroke-width="2.2"/>
<line x1="414.9" y1="336.8" x2="414.9" y2="339.40000000000003" stroke="#222" stroke-width="0.9"/>
<line x1="423.7" y1="336.8" x2="423.7" y2="338.3" stroke="#222" stroke-width="0.6"/>
<line x1="428.9" y1="336.8" x2="428.9" y2="338.3" stroke="#222" stroke-width="0.6"/>
<line x1="432.6" y1="336.8" x2="432.6" y2="338.3" stroke="#222" stroke-width="0.6"/>
<line x1="435.4" y1="336.8" x2="435.4" y2="338.3" stroke="#222" stroke-width="0.6"/>
<line x1="437.7" y1="336.8" x2="437.7" y2="338.3" stroke="#222" stroke-width="0.6"/>
<line x1="439.7" y1="336.8" x2="439.7" y2="338.3" stroke="#222" stroke-width="0.6"/>
<line x1="441.4" y1="336.8" x2="441.4" y2="338.3" stroke="#222" stroke-width="0.6"/>
<line x1="442.9" y1="336.8" x2="442.9" y2="338.3" stroke="#222" stroke-width="0.6"/>
<line x1="444.3" y1="336.8" x2="444.3" y2="339.40000000000003" stroke="#222" stroke-width="0.9"/>
<line x1="453.1" y1="336.8" x2="453.1" y2="338.3" stroke="#222" stroke-width="0.6"/>
<line x1="458.3" y1="336.8" x2="458.3" y2="338.3" stroke="#222" stroke-width="0.6"/>
<line x1="461.9" y1="336.8" x2="461.9" y2="338.3" stroke="#222" stroke-width="0.6"/>
<line x1="464.8" y1="336.8" x2="464.8" y2="338.3" stroke="#222" stroke-width="0.6"/>
<line x1="467.1" y1="336.8" x2="467.1" y2="338.3" stroke="#222" stroke-width="0.6"/>
<line x1="469.1" y1="336.8" x2="469.1" y2="338.3" stroke="#222" stroke-width="0.6"/>
<line x1="470.8" y1="336.8" x2="470.8" y2="338.3" stroke="#222" stroke-width="0.6"/>
<line x1="472.3" y1="336.8" x2="472.3" y2="338.3" stroke="#222" stroke-width="0.6"/>
<line x1="473.6" y1="336.8" x2="473.6" y2="339.40000000000003" stroke="#222" stroke-width="0.9"/>
<line x1="482.5" y1="336.8" x2="482.5" y2="338.3" stroke="#222" stroke-width="0.6"/>
<line x1="487.6" y1="336.8" x2="487.6" y2="338.3" stroke="#222" stroke-width="0.6"/>
<line x1="491.3" y1="336.8" x2="491.3" y2="338.3" stroke="#222" stroke-width="0.6"/>
<line x1="494.1" y1="336.8" x2="494.1" y2="338.3" stroke="#222" stroke-width="0.6"/>
<line x1="496.5" y1="336.8" x2="496.5" y2="338.3" stroke="#222" stroke-width="0.6"/>
<line x1="498.4" y1="336.8" x2="498.4" y2="338.3" stroke="#222" stroke-width="0.6"/>
<line x1="500.1" y1="336.8" x2="500.1" y2="338.3" stroke="#222" stroke-width="0.6"/>
<line x1="501.6" y1="336.8" x2="501.6" y2="338.3" stroke="#222" stroke-width="0.6"/>
<line x1="503.0" y1="336.8" x2="503.0" y2="339.40000000000003" stroke="#222" stroke-width="0.9"/>
<line x1="511.8" y1="336.8" x2="511.8" y2="338.3" stroke="#222" stroke-width="0.6"/>
<line x1="517.0" y1="336.8" x2="517.0" y2="338.3" stroke="#222" stroke-width="0.6"/>
<line x1="520.6" y1="336.8" x2="520.6" y2="338.3" stroke="#222" stroke-width="0.6"/>
<line x1="523.5" y1="336.8" x2="523.5" y2="338.3" stroke="#222" stroke-width="0.6"/>
<line x1="525.8" y1="336.8" x2="525.8" y2="338.3" stroke="#222" stroke-width="0.6"/>
<line x1="527.8" y1="336.8" x2="527.8" y2="338.3" stroke="#222" stroke-width="0.6"/>
<line x1="529.5" y1="336.8" x2="529.5" y2="338.3" stroke="#222" stroke-width="0.6"/>
<line x1="531.0" y1="336.8" x2="531.0" y2="338.3" stroke="#222" stroke-width="0.6"/>
<line x1="532.3" y1="336.8" x2="532.3" y2="339.40000000000003" stroke="#222" stroke-width="0.9"/>
<path d="M458.6,284.2 L535.2,284.2 M458.6,281.3 L458.6,287.09999999999997 M535.2,281.3 L535.2,287.09999999999997" stroke="#1a1a1a" stroke-width="1.25" fill="none"/>
<text x="534.9" y="304.1" font-size="17" text-anchor="end">40.3</text>
<text x="535" y="332.3" font-size="17" text-anchor="end">2.38</text>
<rect x="641.4" y="213.1" width="124.70000000000005" height="123.6" fill="#fff" stroke="#000" stroke-width="1.3"/>
<path d="M641.5,308.3 L642.2,308.3 L642.9,308.2 L643.6,308.2 L644.3,308.2 L645.0,308.2 L645.7,308.2 L646.4,308.1 L647.1,308.1 L647.8,308.0 L648.5,308.0 L649.2,308.0 L649.9,307.7 L650.6,307.5 L651.3,307.3 L652.0,306.3 L652.7,305.7 L653.4,305.1 L654.1,303.8 L654.8,302.8 L655.5,301.4 L656.2,299.4 L656.9,296.4 L657.6,296.4 L658.3,291.6 L659.0,289.1 L659.7,287.0 L660.4,283.1 L661.1,282.1 L661.8,275.5 L662.5,275.4 L663.2,271.5 L663.9,267.3 L664.6,265.5 L665.3,260.4 L666.0,257.4 L666.7,252.5 L667.4,248.2 L668.1,247.9 L668.8,240.7 L669.5,237.6 L670.2,234.7 L670.9,229.1 L671.6,221.9 L672.3,219.1 L673.0,220.9 L673.7,225.1 L674.4,225.5 L675.1,225.2 L675.8,225.1 L676.5,224.4 L677.2,224.2 L677.9,225.1 L678.6,236.2 L679.3,237.5 L680.0,241.1 L680.7,245.3 L681.4,255.5 L682.1,263.4 L682.8,268.0 L683.5,269.2 L684.2,275.1 L684.9,278.7 L685.6,279.3 L686.3,278.2 L687.0,283.7 L687.7,282.0 L688.4,284.5 L689.1,286.8 L689.8,287.4 L690.5,288.3 L691.2,287.2 L691.9,289.3 L692.6,288.4 L693.3,290.2 L694.0,290.3 L694.7,290.9 L695.4,293.2 L696.1,290.6 L696.8,292.7 L697.5,291.9 L698.2,294.6 L698.9,295.5 L699.6,295.4 L700.3,298.5 L701.0,299.5 L701.7,299.8 L702.4,303.9 L703.1,304.1 L703.8,304.1 L704.5,305.4 L705.2,306.3 L705.9,306.5 L706.6,307.1 L707.3,307.5 L708.0,307.6 L708.7,307.8 L709.4,308.1 L710.1,308.2 L710.8,308.3 L711.5,308.4 L712.2,308.5 L712.9,308.5 L713.6,308.5 L714.3,308.5 L715.0,308.5 L715.7,308.5 L716.4,308.5 L717.1,308.5 L717.8,308.5 L718.5,308.5 L719.2,308.5 L719.9,308.5 L720.6,308.5 L721.3,308.5 L722.0,308.5 L722.7,308.5 L723.4,308.5 L724.1,308.5 L724.8,308.5 L725.5,308.5 L726.2,308.5 L726.9,308.5 L727.6,308.5 L728.3,308.5 L729.0,308.5 L729.7,308.5 L730.4,308.5 L731.1,308.5 L731.8,308.5 L732.5,308.5 L733.2,308.5 L733.9,308.5 L734.6,308.5 L735.3,308.5 L736.0,308.5 L736.7,308.5 L737.4,308.5 L738.1,308.5 L738.8,308.5 L739.5,308.5 L740.2,308.5 L740.9,308.5 L741.6,308.5 L742.3,308.5 L743.0,308.5 L743.7,308.5 L744.4,308.5 L745.1,308.5 L745.8,308.5 L746.5,308.5 L747.2,308.5 L747.9,308.5 L748.6,308.5 L749.3,308.5 L750.0,308.5 L750.7,308.5 L751.4,308.5 L752.1,308.5 L752.8,308.5 L753.5,308.5 L754.2,308.5 L754.9,308.5 L755.6,308.5 L756.3,308.5 L757.0,308.5 L757.7,308.5 L758.4,308.5 L759.1,308.5 L759.8,308.5 L760.5,308.5 L761.2,308.5 L761.9,308.5 L762.6,308.5 L763.3,308.5 L764.0,308.5 L764.7,308.5" fill="none" stroke="#8c8c8c" stroke-width="1.8" stroke-linejoin="round" stroke-linecap="butt"/>
<path d="M641.5,336.0 L642.2,335.9 L642.9,335.7 L643.6,335.6 L644.3,335.5 L645.0,335.4 L645.7,335.2 L646.4,334.9 L647.1,335.0 L647.8,334.0 L648.5,333.1 L649.2,331.3 L649.9,328.7 L650.6,327.2 L651.3,323.9 L652.0,320.1 L652.7,317.3 L653.4,313.9 L654.1,310.9 L654.8,306.3 L655.5,302.7 L656.2,299.7 L656.9,295.7 L657.6,292.0 L658.3,289.3 L659.0,287.7 L659.7,284.2 L660.4,279.7 L661.1,275.7 L661.8,271.9 L662.5,270.1 L663.2,267.3 L663.9,265.5 L664.6,262.1 L665.3,257.8 L666.0,255.0 L666.7,251.5 L667.4,245.9 L668.1,247.7 L668.8,250.2 L669.5,249.8 L670.2,250.9 L670.9,248.1 L671.6,247.6 L672.3,248.9 L673.0,253.1 L673.7,259.2 L674.4,267.5 L675.1,269.8 L675.8,275.1 L676.5,278.6 L677.2,282.6 L677.9,290.8 L678.6,302.5 L679.3,309.6 L680.0,314.1 L680.7,319.2 L681.4,323.0 L682.1,326.7 L682.8,330.3 L683.5,332.3 L684.2,333.4 L684.9,334.0 L685.6,334.7 L686.3,335.3 L687.0,335.5 L687.7,335.9 L688.4,336.0 L689.1,336.0 L689.8,336.0 L690.5,336.0 L691.2,336.0 L691.9,336.0 L692.6,336.0 L693.3,336.0 L694.0,336.0 L694.7,336.0 L695.4,336.0 L696.1,336.0 L696.8,336.0 L697.5,336.0 L698.2,336.0 L698.9,336.0 L699.6,336.0 L700.3,336.0 L701.0,336.0 L701.7,336.0 L702.4,336.0 L703.1,336.0 L703.8,336.0 L704.5,336.0 L705.2,336.0 L705.9,336.0 L706.6,336.0 L707.3,336.0 L708.0,336.0 L708.7,336.0 L709.4,336.0 L710.1,336.0 L710.8,336.0 L711.5,336.0 L712.2,336.0 L712.9,336.0 L713.6,336.0 L714.3,336.0 L715.0,336.0 L715.7,336.0 L716.4,336.0 L717.1,336.0 L717.8,336.0 L718.5,336.0 L719.2,336.0 L719.9,336.0 L720.6,336.0 L721.3,336.0 L722.0,336.0 L722.7,336.0 L723.4,336.0 L724.1,336.0 L724.8,336.0 L725.5,336.0 L726.2,336.0 L726.9,336.0 L727.6,336.0 L728.3,336.0 L729.0,336.0 L729.7,336.0 L730.4,336.0 L731.1,336.0 L731.8,336.0 L732.5,336.0 L733.2,336.0 L733.9,336.0 L734.6,336.0 L735.3,336.0 L736.0,336.0 L736.7,336.0 L737.4,336.0 L738.1,336.0 L738.8,336.0 L739.5,336.0 L740.2,336.0 L740.9,336.0 L741.6,336.0 L742.3,336.0 L743.0,336.0 L743.7,336.0 L744.4,336.0 L745.1,336.0 L745.8,336.0 L746.5,336.0 L747.2,336.0 L747.9,336.0 L748.6,336.0 L749.3,336.0 L750.0,336.0 L750.7,336.0 L751.4,336.0 L752.1,336.0 L752.8,336.0 L753.5,336.0 L754.2,336.0 L754.9,336.0 L755.6,336.0 L756.3,336.0 L757.0,336.0 L757.7,336.0 L758.4,336.0 L759.1,336.0 L759.8,336.0 L760.5,336.0 L761.2,336.0 L761.9,336.0 L762.6,336.0 L763.3,336.0 L764.0,336.0 L764.7,336.0" fill="none" stroke="#000" stroke-width="2.0" stroke-linejoin="round" stroke-linecap="butt"/>
<line x1="640.75" y1="336.7" x2="766.75" y2="336.7" stroke="#000" stroke-width="2.2"/>
<line x1="642.3" y1="337.7" x2="642.3" y2="340.3" stroke="#222" stroke-width="0.9"/>
<line x1="651.2" y1="337.7" x2="651.2" y2="339.2" stroke="#222" stroke-width="0.6"/>
<line x1="656.5" y1="337.7" x2="656.5" y2="339.2" stroke="#222" stroke-width="0.6"/>
<line x1="660.2" y1="337.7" x2="660.2" y2="339.2" stroke="#222" stroke-width="0.6"/>
<line x1="663.1" y1="337.7" x2="663.1" y2="339.2" stroke="#222" stroke-width="0.6"/>
<line x1="665.4" y1="337.7" x2="665.4" y2="339.2" stroke="#222" stroke-width="0.6"/>
<line x1="667.4" y1="337.7" x2="667.4" y2="339.2" stroke="#222" stroke-width="0.6"/>
<line x1="669.1" y1="337.7" x2="669.1" y2="339.2" stroke="#222" stroke-width="0.6"/>
<line x1="670.6" y1="337.7" x2="670.6" y2="339.2" stroke="#222" stroke-width="0.6"/>
<line x1="672.0" y1="337.7" x2="672.0" y2="340.3" stroke="#222" stroke-width="0.9"/>
<line x1="680.9" y1="337.7" x2="680.9" y2="339.2" stroke="#222" stroke-width="0.6"/>
<line x1="686.2" y1="337.7" x2="686.2" y2="339.2" stroke="#222" stroke-width="0.6"/>
<line x1="689.9" y1="337.7" x2="689.9" y2="339.2" stroke="#222" stroke-width="0.6"/>
<line x1="692.7" y1="337.7" x2="692.7" y2="339.2" stroke="#222" stroke-width="0.6"/>
<line x1="695.1" y1="337.7" x2="695.1" y2="339.2" stroke="#222" stroke-width="0.6"/>
<line x1="697.1" y1="337.7" x2="697.1" y2="339.2" stroke="#222" stroke-width="0.6"/>
<line x1="698.8" y1="337.7" x2="698.8" y2="339.2" stroke="#222" stroke-width="0.6"/>
<line x1="700.3" y1="337.7" x2="700.3" y2="339.2" stroke="#222" stroke-width="0.6"/>
<line x1="701.7" y1="337.7" x2="701.7" y2="340.3" stroke="#222" stroke-width="0.9"/>
<line x1="710.6" y1="337.7" x2="710.6" y2="339.2" stroke="#222" stroke-width="0.6"/>
<line x1="715.8" y1="337.7" x2="715.8" y2="339.2" stroke="#222" stroke-width="0.6"/>
<line x1="719.6" y1="337.7" x2="719.6" y2="339.2" stroke="#222" stroke-width="0.6"/>
<line x1="722.4" y1="337.7" x2="722.4" y2="339.2" stroke="#222" stroke-width="0.6"/>
<line x1="724.8" y1="337.7" x2="724.8" y2="339.2" stroke="#222" stroke-width="0.6"/>
<line x1="726.8" y1="337.7" x2="726.8" y2="339.2" stroke="#222" stroke-width="0.6"/>
<line x1="728.5" y1="337.7" x2="728.5" y2="339.2" stroke="#222" stroke-width="0.6"/>
<line x1="730.0" y1="337.7" x2="730.0" y2="339.2" stroke="#222" stroke-width="0.6"/>
<line x1="731.4" y1="337.7" x2="731.4" y2="340.3" stroke="#222" stroke-width="0.9"/>
<line x1="740.3" y1="337.7" x2="740.3" y2="339.2" stroke="#222" stroke-width="0.6"/>
<line x1="745.5" y1="337.7" x2="745.5" y2="339.2" stroke="#222" stroke-width="0.6"/>
<line x1="749.2" y1="337.7" x2="749.2" y2="339.2" stroke="#222" stroke-width="0.6"/>
<line x1="752.1" y1="337.7" x2="752.1" y2="339.2" stroke="#222" stroke-width="0.6"/>
<line x1="754.5" y1="337.7" x2="754.5" y2="339.2" stroke="#222" stroke-width="0.6"/>
<line x1="756.5" y1="337.7" x2="756.5" y2="339.2" stroke="#222" stroke-width="0.6"/>
<line x1="758.2" y1="337.7" x2="758.2" y2="339.2" stroke="#222" stroke-width="0.6"/>
<line x1="759.7" y1="337.7" x2="759.7" y2="339.2" stroke="#222" stroke-width="0.6"/>
<line x1="761.1" y1="337.7" x2="761.1" y2="340.3" stroke="#222" stroke-width="0.9"/>
<path d="M684.1,284.8 L763.2,284.8 M684.1,281.90000000000003 L684.1,287.7 " stroke="#1a1a1a" stroke-width="1.25" fill="none"/>
<text x="762.8" y="305.3" font-size="17" text-anchor="end">21.8</text>
<text x="763.4" y="333.4" font-size="17" text-anchor="end">1.67</text>
<text x="478.3" y="33.4" font-size="19" text-anchor="middle">isotype</text>
<text x="706.3" y="33.8" font-size="19.6" text-anchor="middle">PMA+Iono</text>
<text x="477" y="207.4" font-size="19" text-anchor="middle">Tnaive</text>
<text x="706" y="207.8" font-size="19" text-anchor="middle">Treg</text>
<text x="616.6" y="137.6" font-size="19" text-anchor="end">Tnaive</text>
<text x="609.8" y="165" font-size="19" text-anchor="end">Treg</text>
<text x="590" y="311.8" font-size="17.6" text-anchor="middle" style="fill:#2e2e2e;stroke:#2e2e2e">unmod</text>
<text x="590" y="338.8" font-size="16.7" text-anchor="middle">Yptb-WT-Bla</text>
<line x1="397.8" y1="46.5" x2="397.8" y2="264.3" stroke="#000" stroke-width="2.0"/>
<path d="M397.7,38.7 L402.5,47.3 L392.9,47.3 Z" fill="#000"/>
<text transform="translate(402.1,324.2) rotate(-90)" font-size="19.4">Count</text>
<text x="410.8" y="369.2" font-size="19.4">pERK</text>
<line x1="469.7" y1="365.4" x2="759" y2="365.4" stroke="#000" stroke-width="1.9"/>
<path d="M767,365.4 L758.4,360.7 L758.4,370.1 Z" fill="#000"/>
<path d="M56.7,414.90000000000003 L56.7,579.7 L222,579.7" fill="none" stroke="#1a1a1a" stroke-width="1.5"/>
<line x1="53.1" y1="579.7" x2="56.7" y2="579.7" stroke="#1a1a1a" stroke-width="1.45"/>
<text x="52.5" y="585.3" font-size="19.6" text-anchor="end">0</text>
<line x1="53.1" y1="546.9" x2="56.7" y2="546.9" stroke="#1a1a1a" stroke-width="1.45"/>
<text x="52.5" y="553.2" font-size="19.6" text-anchor="end">20</text>
<line x1="53.1" y1="514.1" x2="56.7" y2="514.1" stroke="#1a1a1a" stroke-width="1.45"/>
<text x="52.5" y="521.2" font-size="19.6" text-anchor="end">40</text>
<line x1="53.1" y1="481.2" x2="56.7" y2="481.2" stroke="#1a1a1a" stroke-width="1.45"/>
<text x="52.5" y="488.2" font-size="19.6" text-anchor="end">60</text>
<line x1="53.1" y1="448.4" x2="56.7" y2="448.4" stroke="#1a1a1a" stroke-width="1.45"/>
<text x="52.5" y="455.9" font-size="19.6" text-anchor="end">80</text>
<line x1="53.1" y1="415.6" x2="56.7" y2="415.6" stroke="#1a1a1a" stroke-width="1.45"/>
<text x="52.5" y="420.4" font-size="19.6" text-anchor="end">100</text>
<line x1="84.5" y1="579.7" x2="84.5" y2="583.3000000000001" stroke="#1a1a1a" stroke-width="1.45"/>
<line x1="139.3" y1="579.7" x2="139.3" y2="583.3000000000001" stroke="#1a1a1a" stroke-width="1.45"/>
<line x1="194.8" y1="579.7" x2="194.8" y2="583.3000000000001" stroke="#1a1a1a" stroke-width="1.45"/>
<line x1="66" y1="502.2" x2="101.3" y2="502.2" stroke="#1a1a1a" stroke-width="1.4"/>
<line x1="121" y1="575.8" x2="158" y2="575.8" stroke="#1a1a1a" stroke-width="1.4"/>
<line x1="177" y1="497.4" x2="211.8" y2="497.4" stroke="#1a1a1a" stroke-width="1.4"/>
<circle cx="84.2" cy="463.2" r="4.15" fill="none" stroke="#111" stroke-width="1.5"/>
<circle cx="84.2" cy="490" r="4.15" fill="none" stroke="#111" stroke-width="1.5"/>
<circle cx="84.2" cy="513.6" r="4.15" fill="none" stroke="#111" stroke-width="1.5"/>
<circle cx="84.3" cy="545" r="4.15" fill="none" stroke="#111" stroke-width="1.5"/>
<circle cx="125" cy="574.5" r="4.9" fill="#000"/>
<circle cx="134.4" cy="577.3" r="4.9" fill="#000"/>
<circle cx="144" cy="576" r="4.9" fill="#000"/>
<circle cx="153.2" cy="574.2" r="4.9" fill="#000"/>
<circle cx="201" cy="469.6" r="4.3" fill="#555" stroke="#111" stroke-width="1.3"/>
<circle cx="188.2" cy="477.6" r="4.3" fill="#555" stroke="#111" stroke-width="1.3"/>
<circle cx="194.3" cy="501" r="4.3" fill="#555" stroke="#111" stroke-width="1.3"/>
<circle cx="194.8" cy="543.6" r="4.3" fill="#555" stroke="#111" stroke-width="1.3"/>
<text transform="translate(15.3,584.6) rotate(-90)" font-size="16.8">% pERK<tspan font-size="10.5" dy="-5.5">+</tspan><tspan dy="5.5"> of CD4</tspan><tspan font-size="10.5" dy="-5.5">+</tspan><tspan dy="5.5" letter-spacing="-0.55">Foxp3</tspan><tspan font-size="10.5" dy="-5.5">-</tspan></text>
<text transform="translate(91.9,592.0) rotate(-51)" font-size="17.5" text-anchor="end">unmod</text>
<text transform="translate(146.70000000000002,592.0) rotate(-51)" font-size="17.5" text-anchor="end">Yptb-WT-Bla</text>
<text transform="translate(202.20000000000002,592.0) rotate(-51)" font-size="17.15" text-anchor="end">ΔT3SS-Bla</text>
<line x1="85" y1="430.5" x2="189" y2="430.5" stroke="#1a1a1a" stroke-width="1.3"/>
<line x1="83.5" y1="448.5" x2="131.8" y2="448.5" stroke="#1a1a1a" stroke-width="1.3"/>
<line x1="141.7" y1="448.5" x2="189.8" y2="448.5" stroke="#1a1a1a" stroke-width="1.3"/>
<text x="135.2" y="427.4" font-size="17" text-anchor="middle">ns</text>
<text x="110" y="452" font-size="21" font-weight="bold" text-anchor="middle" stroke-linejoin="round" style="stroke-width:0.8px">*</text>
<text x="168" y="452" font-size="21" font-weight="bold" text-anchor="middle" stroke-linejoin="round" style="stroke-width:0.8px">**</text>
<path d="M305.4,416.3 L305.4,580.4 L471.6,580.4" fill="none" stroke="#1a1a1a" stroke-width="1.5"/>
<line x1="301.79999999999995" y1="580.4" x2="305.4" y2="580.4" stroke="#1a1a1a" stroke-width="1.45"/>
<text x="299.59999999999997" y="586.0" font-size="19.6" text-anchor="end">0</text>
<line x1="301.79999999999995" y1="547.7" x2="305.4" y2="547.7" stroke="#1a1a1a" stroke-width="1.45"/>
<text x="299.59999999999997" y="554.0" font-size="19.6" text-anchor="end">20</text>
<line x1="301.79999999999995" y1="515.0" x2="305.4" y2="515.0" stroke="#1a1a1a" stroke-width="1.45"/>
<text x="299.59999999999997" y="522.1" font-size="19.6" text-anchor="end">40</text>
<line x1="301.79999999999995" y1="482.4" x2="305.4" y2="482.4" stroke="#1a1a1a" stroke-width="1.45"/>
<text x="299.59999999999997" y="489.4" font-size="19.6" text-anchor="end">60</text>
<line x1="301.79999999999995" y1="449.7" x2="305.4" y2="449.7" stroke="#1a1a1a" stroke-width="1.45"/>
<text x="299.59999999999997" y="457.2" font-size="19.6" text-anchor="end">80</text>
<line x1="301.79999999999995" y1="417.0" x2="305.4" y2="417.0" stroke="#1a1a1a" stroke-width="1.45"/>
<text x="299.59999999999997" y="421.8" font-size="19.6" text-anchor="end">100</text>
<line x1="333.2" y1="580.4" x2="333.2" y2="584.0" stroke="#1a1a1a" stroke-width="1.45"/>
<line x1="388.4" y1="580.4" x2="388.4" y2="584.0" stroke="#1a1a1a" stroke-width="1.45"/>
<line x1="444" y1="580.4" x2="444" y2="584.0" stroke="#1a1a1a" stroke-width="1.45"/>
<line x1="315.8" y1="543.5" x2="350.8" y2="543.5" stroke="#1a1a1a" stroke-width="1.4"/>
<line x1="370" y1="574.5" x2="407.1" y2="574.5" stroke="#1a1a1a" stroke-width="1.4"/>
<line x1="427.2" y1="539.9" x2="461.6" y2="539.9" stroke="#1a1a1a" stroke-width="1.4"/>
<circle cx="333.2" cy="523.7" r="4.15" fill="none" stroke="#111" stroke-width="1.5"/>
<circle cx="321" cy="545.1" r="4.15" fill="none" stroke="#111" stroke-width="1.5"/>
<circle cx="333" cy="552.2" r="4.15" fill="none" stroke="#111" stroke-width="1.5"/>
<circle cx="345.2" cy="551.7" r="4.15" fill="none" stroke="#111" stroke-width="1.5"/>
<circle cx="374.2" cy="576.2" r="4.9" fill="#000"/>
<circle cx="383.9" cy="577.9" r="4.9" fill="#000"/>
<circle cx="393" cy="577.1" r="4.9" fill="#000"/>
<circle cx="402.6" cy="568.5" r="4.9" fill="#000"/>
<circle cx="444.2" cy="524.2" r="4.3" fill="#555" stroke="#111" stroke-width="1.3"/>
<circle cx="438" cy="532" r="4.3" fill="#555" stroke="#111" stroke-width="1.3"/>
<circle cx="450.3" cy="538.5" r="4.3" fill="#555" stroke="#111" stroke-width="1.3"/>
<circle cx="444" cy="562.8" r="4.3" fill="#555" stroke="#111" stroke-width="1.3"/>
<text transform="translate(262.7,588.4) rotate(-90)" font-size="16.8">% pERK<tspan font-size="10.5" dy="-5.5">+</tspan><tspan dy="5.5"> of CD4</tspan><tspan font-size="10.5" dy="-5.5">+</tspan><tspan dy="5.5" letter-spacing="-0.55">Foxp3</tspan><tspan font-size="10.5" dy="-5.5">+</tspan></text>
<text transform="translate(340.59999999999997,592.6999999999999) rotate(-51)" font-size="17.5" text-anchor="end">unmod</text>
<text transform="translate(395.79999999999995,592.6999999999999) rotate(-51)" font-size="17.5" text-anchor="end">Yptb-WT-Bla</text>
<text transform="translate(451.4,592.6999999999999) rotate(-51)" font-size="17.15" text-anchor="end">ΔT3SS-Bla</text>
<line x1="336" y1="451.4" x2="439.7" y2="451.4" stroke="#1a1a1a" stroke-width="1.3"/>
<line x1="335" y1="469.3" x2="382.9" y2="469.3" stroke="#1a1a1a" stroke-width="1.3"/>
<line x1="392.5" y1="469.3" x2="440.9" y2="469.3" stroke="#1a1a1a" stroke-width="1.3"/>
<text x="386" y="448.9" font-size="17" text-anchor="middle">ns</text>
<text x="361.5" y="472.3" font-size="21" font-weight="bold" text-anchor="middle" stroke-linejoin="round" style="stroke-width:0.8px">*</text>
<text x="418.7" y="472.3" font-size="21" font-weight="bold" text-anchor="middle" stroke-linejoin="round" style="stroke-width:0.8px">**</text>
</svg>
</body></html>
